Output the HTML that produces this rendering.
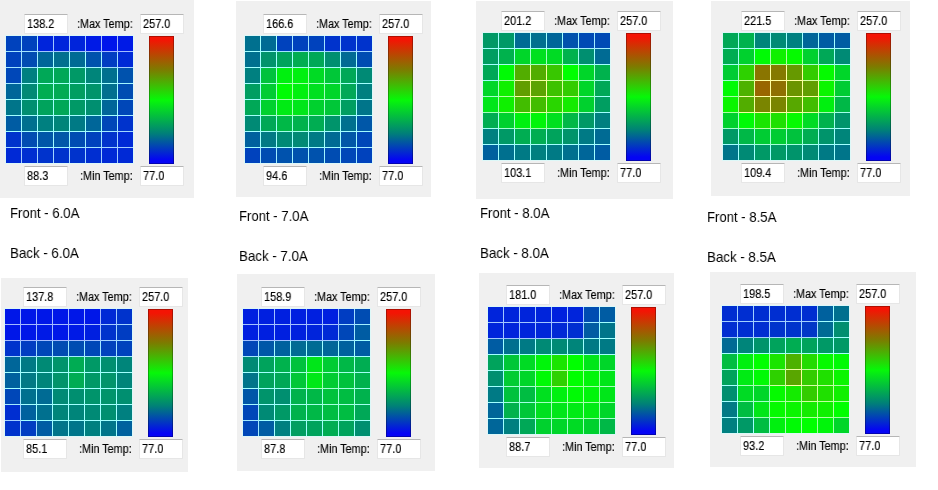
<!DOCTYPE html>
<html><head><meta charset="utf-8"><title>Thermal maps</title>
<style>
html,body{margin:0;padding:0;background:#fff;}
body{width:938px;height:490px;position:relative;overflow:hidden;font-family:"Liberation Sans",sans-serif;}
.gray{position:absolute;background:#f0f0f0;}
.grid{position:absolute;background:#c4f8fa;outline:1px solid rgba(215,250,250,.8);}
.c{position:absolute;box-sizing:border-box;}
.tb{position:absolute;background:#fff;border:1px solid #e6e6e6;border-top-color:#b6b6b6;box-sizing:border-box;border-radius:1px;}
.t{position:absolute;font-size:12.5px;line-height:14px;color:#000;white-space:nowrap;transform-origin:0 0;transform:scaleX(.875);will-change:transform;-webkit-text-stroke:.15px #000;}
.tl{transform:scaleX(.865);}
.cb{position:absolute;background:linear-gradient(to bottom,#f41404 0%,#f41404 3%,#7c7c00 26.5%,#06f808 50%,#008078 76%,#0404f4 97%,#0404f4 100%);box-shadow:inset 0 0 0 1px rgba(0,0,0,.28);}
.lab{position:absolute;font-size:14.5px;line-height:16px;color:#000;white-space:nowrap;transform-origin:0 0;transform:scaleX(.915);will-change:transform;}
</style></head><body>

<div class="gray" style="left:0px;top:0px;width:194px;height:197.5px"></div>
<div class="grid" style="left:6px;top:36px;width:127.0px;height:127.0px">
<div class="c" style="left:0px;top:0px;width:16px;height:16px;background:rgb(0,66,189);border-right:1px solid rgb(162,228,255);border-bottom:1px solid rgb(162,228,255);"></div>
<div class="c" style="left:16px;top:0px;width:16px;height:16px;background:rgb(0,66,189);border-right:1px solid rgb(162,228,255);border-bottom:1px solid rgb(162,228,255);"></div>
<div class="c" style="left:32px;top:0px;width:16px;height:16px;background:rgb(0,36,219);border-right:1px solid rgb(162,198,255);border-bottom:1px solid rgb(162,198,255);"></div>
<div class="c" style="left:48px;top:0px;width:16px;height:16px;background:rgb(0,36,219);border-right:1px solid rgb(162,198,255);border-bottom:1px solid rgb(162,198,255);"></div>
<div class="c" style="left:64px;top:0px;width:16px;height:16px;background:rgb(0,36,219);border-right:1px solid rgb(162,198,255);border-bottom:1px solid rgb(162,198,255);"></div>
<div class="c" style="left:80px;top:0px;width:16px;height:16px;background:rgb(0,26,230);border-right:1px solid rgb(162,188,255);border-bottom:1px solid rgb(162,188,255);"></div>
<div class="c" style="left:96px;top:0px;width:16px;height:16px;background:rgb(0,20,235);border-right:1px solid rgb(162,182,255);border-bottom:1px solid rgb(162,182,255);"></div>
<div class="c" style="left:112px;top:0px;width:15px;height:16px;background:rgb(0,26,230);border-bottom:1px solid rgb(162,188,255);"></div>
<div class="c" style="left:0px;top:16px;width:16px;height:16px;background:rgb(0,66,189);border-right:1px solid rgb(162,228,255);border-bottom:1px solid rgb(162,228,255);"></div>
<div class="c" style="left:16px;top:16px;width:16px;height:16px;background:rgb(0,76,178);border-right:1px solid rgb(162,238,255);border-bottom:1px solid rgb(162,238,255);"></div>
<div class="c" style="left:32px;top:16px;width:16px;height:16px;background:rgb(0,102,153);border-right:1px solid rgb(162,255,255);border-bottom:1px solid rgb(162,255,255);"></div>
<div class="c" style="left:48px;top:16px;width:16px;height:16px;background:rgb(0,112,143);border-right:1px solid rgb(162,255,255);border-bottom:1px solid rgb(162,255,255);"></div>
<div class="c" style="left:64px;top:16px;width:16px;height:16px;background:rgb(0,107,148);border-right:1px solid rgb(162,255,255);border-bottom:1px solid rgb(162,255,255);"></div>
<div class="c" style="left:80px;top:16px;width:16px;height:16px;background:rgb(0,82,173);border-right:1px solid rgb(162,244,255);border-bottom:1px solid rgb(162,244,255);"></div>
<div class="c" style="left:96px;top:16px;width:16px;height:16px;background:rgb(0,61,194);border-right:1px solid rgb(162,223,255);border-bottom:1px solid rgb(162,223,255);"></div>
<div class="c" style="left:112px;top:16px;width:15px;height:16px;background:rgb(0,41,214);border-bottom:1px solid rgb(162,203,255);"></div>
<div class="c" style="left:0px;top:32px;width:16px;height:16px;background:rgb(0,71,184);border-right:1px solid rgb(162,233,255);border-bottom:1px solid rgb(162,233,255);"></div>
<div class="c" style="left:16px;top:32px;width:16px;height:16px;background:rgb(0,128,128);border-right:1px solid rgb(162,255,255);border-bottom:1px solid rgb(162,255,255);"></div>
<div class="c" style="left:32px;top:32px;width:16px;height:16px;background:rgb(0,168,87);border-right:1px solid rgb(162,255,249);border-bottom:1px solid rgb(162,255,249);"></div>
<div class="c" style="left:48px;top:32px;width:16px;height:16px;background:rgb(0,168,87);border-right:1px solid rgb(162,255,249);border-bottom:1px solid rgb(162,255,249);"></div>
<div class="c" style="left:64px;top:32px;width:16px;height:16px;background:rgb(0,153,102);border-right:1px solid rgb(162,255,255);border-bottom:1px solid rgb(162,255,255);"></div>
<div class="c" style="left:80px;top:32px;width:16px;height:16px;background:rgb(0,133,122);border-right:1px solid rgb(162,255,255);border-bottom:1px solid rgb(162,255,255);"></div>
<div class="c" style="left:96px;top:32px;width:16px;height:16px;background:rgb(0,112,143);border-right:1px solid rgb(162,255,255);border-bottom:1px solid rgb(162,255,255);"></div>
<div class="c" style="left:112px;top:32px;width:15px;height:16px;background:rgb(0,82,173);border-bottom:1px solid rgb(162,244,255);"></div>
<div class="c" style="left:0px;top:48px;width:16px;height:16px;background:rgb(0,102,153);border-right:1px solid rgb(162,255,255);border-bottom:1px solid rgb(162,255,255);"></div>
<div class="c" style="left:16px;top:48px;width:16px;height:16px;background:rgb(0,138,117);border-right:1px solid rgb(162,255,255);border-bottom:1px solid rgb(162,255,255);"></div>
<div class="c" style="left:32px;top:48px;width:16px;height:16px;background:rgb(0,173,82);border-right:1px solid rgb(162,255,244);border-bottom:1px solid rgb(162,255,244);"></div>
<div class="c" style="left:48px;top:48px;width:16px;height:16px;background:rgb(0,171,84);border-right:1px solid rgb(162,255,246);border-bottom:1px solid rgb(162,255,246);"></div>
<div class="c" style="left:64px;top:48px;width:16px;height:16px;background:rgb(0,158,97);border-right:1px solid rgb(162,255,255);border-bottom:1px solid rgb(162,255,255);"></div>
<div class="c" style="left:80px;top:48px;width:16px;height:16px;background:rgb(0,148,107);border-right:1px solid rgb(162,255,255);border-bottom:1px solid rgb(162,255,255);"></div>
<div class="c" style="left:96px;top:48px;width:16px;height:16px;background:rgb(0,112,143);border-right:1px solid rgb(162,255,255);border-bottom:1px solid rgb(162,255,255);"></div>
<div class="c" style="left:112px;top:48px;width:15px;height:16px;background:rgb(0,76,178);border-bottom:1px solid rgb(162,238,255);"></div>
<div class="c" style="left:0px;top:64px;width:16px;height:16px;background:rgb(0,117,138);border-right:1px solid rgb(162,255,255);border-bottom:1px solid rgb(162,255,255);"></div>
<div class="c" style="left:16px;top:64px;width:16px;height:16px;background:rgb(0,143,112);border-right:1px solid rgb(162,255,255);border-bottom:1px solid rgb(162,255,255);"></div>
<div class="c" style="left:32px;top:64px;width:16px;height:16px;background:rgb(0,163,92);border-right:1px solid rgb(162,255,254);border-bottom:1px solid rgb(162,255,254);"></div>
<div class="c" style="left:48px;top:64px;width:16px;height:16px;background:rgb(0,168,87);border-right:1px solid rgb(162,255,249);border-bottom:1px solid rgb(162,255,249);"></div>
<div class="c" style="left:64px;top:64px;width:16px;height:16px;background:rgb(0,153,102);border-right:1px solid rgb(162,255,255);border-bottom:1px solid rgb(162,255,255);"></div>
<div class="c" style="left:80px;top:64px;width:16px;height:16px;background:rgb(0,143,112);border-right:1px solid rgb(162,255,255);border-bottom:1px solid rgb(162,255,255);"></div>
<div class="c" style="left:96px;top:64px;width:16px;height:16px;background:rgb(0,102,153);border-right:1px solid rgb(162,255,255);border-bottom:1px solid rgb(162,255,255);"></div>
<div class="c" style="left:112px;top:64px;width:15px;height:16px;background:rgb(0,71,184);border-bottom:1px solid rgb(162,233,255);"></div>
<div class="c" style="left:0px;top:80px;width:16px;height:16px;background:rgb(0,92,163);border-right:1px solid rgb(162,254,255);border-bottom:1px solid rgb(162,254,255);"></div>
<div class="c" style="left:16px;top:80px;width:16px;height:16px;background:rgb(0,112,143);border-right:1px solid rgb(162,255,255);border-bottom:1px solid rgb(162,255,255);"></div>
<div class="c" style="left:32px;top:80px;width:16px;height:16px;background:rgb(0,128,128);border-right:1px solid rgb(162,255,255);border-bottom:1px solid rgb(162,255,255);"></div>
<div class="c" style="left:48px;top:80px;width:16px;height:16px;background:rgb(0,133,122);border-right:1px solid rgb(162,255,255);border-bottom:1px solid rgb(162,255,255);"></div>
<div class="c" style="left:64px;top:80px;width:16px;height:16px;background:rgb(0,122,133);border-right:1px solid rgb(162,255,255);border-bottom:1px solid rgb(162,255,255);"></div>
<div class="c" style="left:80px;top:80px;width:16px;height:16px;background:rgb(0,102,153);border-right:1px solid rgb(162,255,255);border-bottom:1px solid rgb(162,255,255);"></div>
<div class="c" style="left:96px;top:80px;width:16px;height:16px;background:rgb(0,71,184);border-right:1px solid rgb(162,233,255);border-bottom:1px solid rgb(162,233,255);"></div>
<div class="c" style="left:112px;top:80px;width:15px;height:16px;background:rgb(0,51,204);border-bottom:1px solid rgb(162,213,255);"></div>
<div class="c" style="left:0px;top:96px;width:16px;height:16px;background:rgb(0,51,204);border-right:1px solid rgb(162,213,255);border-bottom:1px solid rgb(162,213,255);"></div>
<div class="c" style="left:16px;top:96px;width:16px;height:16px;background:rgb(0,76,178);border-right:1px solid rgb(162,238,255);border-bottom:1px solid rgb(162,238,255);"></div>
<div class="c" style="left:32px;top:96px;width:16px;height:16px;background:rgb(0,87,168);border-right:1px solid rgb(162,249,255);border-bottom:1px solid rgb(162,249,255);"></div>
<div class="c" style="left:48px;top:96px;width:16px;height:16px;background:rgb(0,87,168);border-right:1px solid rgb(162,249,255);border-bottom:1px solid rgb(162,249,255);"></div>
<div class="c" style="left:64px;top:96px;width:16px;height:16px;background:rgb(0,76,178);border-right:1px solid rgb(162,238,255);border-bottom:1px solid rgb(162,238,255);"></div>
<div class="c" style="left:80px;top:96px;width:16px;height:16px;background:rgb(0,66,189);border-right:1px solid rgb(162,228,255);border-bottom:1px solid rgb(162,228,255);"></div>
<div class="c" style="left:96px;top:96px;width:16px;height:16px;background:rgb(0,51,204);border-right:1px solid rgb(162,213,255);border-bottom:1px solid rgb(162,213,255);"></div>
<div class="c" style="left:112px;top:96px;width:15px;height:16px;background:rgb(0,41,214);border-bottom:1px solid rgb(162,203,255);"></div>
<div class="c" style="left:0px;top:112px;width:16px;height:15px;background:rgb(0,41,214);border-right:1px solid rgb(162,203,255);"></div>
<div class="c" style="left:16px;top:112px;width:16px;height:15px;background:rgb(0,46,209);border-right:1px solid rgb(162,208,255);"></div>
<div class="c" style="left:32px;top:112px;width:16px;height:15px;background:rgb(0,51,204);border-right:1px solid rgb(162,213,255);"></div>
<div class="c" style="left:48px;top:112px;width:16px;height:15px;background:rgb(0,51,204);border-right:1px solid rgb(162,213,255);"></div>
<div class="c" style="left:64px;top:112px;width:16px;height:15px;background:rgb(0,51,204);border-right:1px solid rgb(162,213,255);"></div>
<div class="c" style="left:80px;top:112px;width:16px;height:15px;background:rgb(0,46,209);border-right:1px solid rgb(162,208,255);"></div>
<div class="c" style="left:96px;top:112px;width:16px;height:15px;background:rgb(0,41,214);border-right:1px solid rgb(162,203,255);"></div>
<div class="c" style="left:112px;top:112px;width:15px;height:15px;background:rgb(0,41,214);"></div>
</div>
<div class="tb" style="left:24.4px;top:14.100000000000001px;width:44px;height:19.5px"></div>
<div class="t" style="left:27.1px;top:16.8px">138.2</div>
<div class="t tl" style="left:77px;top:16.8px">:Max Temp:</div>
<div class="tb" style="left:139.8px;top:14.100000000000001px;width:44.2px;height:19.5px"></div>
<div class="t" style="left:143px;top:16.8px">257.0</div>
<div class="cb" style="left:149px;top:35.7px;width:24.8px;height:128px"></div>
<div class="tb" style="left:24.4px;top:166.3px;width:44px;height:19.3px"></div>
<div class="t" style="left:26.9px;top:168.6px">88.3</div>
<div class="t tl" style="left:79.8px;top:168.6px">:Min Temp:</div>
<div class="tb" style="left:139.8px;top:166.3px;width:44.2px;height:19.3px"></div>
<div class="t" style="left:142.8px;top:168.6px">77.0</div>
<div class="gray" style="left:236px;top:1px;width:195px;height:196.3px"></div>
<div class="grid" style="left:245px;top:36px;width:127.0px;height:127.0px">
<div class="c" style="left:0px;top:0px;width:16px;height:16px;background:rgb(0,112,143);border-right:1px solid rgb(162,255,255);border-bottom:1px solid rgb(162,255,255);"></div>
<div class="c" style="left:16px;top:0px;width:16px;height:16px;background:rgb(0,107,148);border-right:1px solid rgb(162,255,255);border-bottom:1px solid rgb(162,255,255);"></div>
<div class="c" style="left:32px;top:0px;width:16px;height:16px;background:rgb(0,66,189);border-right:1px solid rgb(162,228,255);border-bottom:1px solid rgb(162,228,255);"></div>
<div class="c" style="left:48px;top:0px;width:16px;height:16px;background:rgb(0,66,189);border-right:1px solid rgb(162,228,255);border-bottom:1px solid rgb(162,228,255);"></div>
<div class="c" style="left:64px;top:0px;width:16px;height:16px;background:rgb(0,66,189);border-right:1px solid rgb(162,228,255);border-bottom:1px solid rgb(162,228,255);"></div>
<div class="c" style="left:80px;top:0px;width:16px;height:16px;background:rgb(0,51,204);border-right:1px solid rgb(162,213,255);border-bottom:1px solid rgb(162,213,255);"></div>
<div class="c" style="left:96px;top:0px;width:16px;height:16px;background:rgb(0,51,204);border-right:1px solid rgb(162,213,255);border-bottom:1px solid rgb(162,213,255);"></div>
<div class="c" style="left:112px;top:0px;width:15px;height:16px;background:rgb(0,51,204);border-bottom:1px solid rgb(162,213,255);"></div>
<div class="c" style="left:0px;top:16px;width:16px;height:16px;background:rgb(0,112,143);border-right:1px solid rgb(162,255,255);border-bottom:1px solid rgb(162,255,255);"></div>
<div class="c" style="left:16px;top:16px;width:16px;height:16px;background:rgb(0,148,107);border-right:1px solid rgb(162,255,255);border-bottom:1px solid rgb(162,255,255);"></div>
<div class="c" style="left:32px;top:16px;width:16px;height:16px;background:rgb(0,163,92);border-right:1px solid rgb(162,255,254);border-bottom:1px solid rgb(162,255,254);"></div>
<div class="c" style="left:48px;top:16px;width:16px;height:16px;background:rgb(0,173,82);border-right:1px solid rgb(162,255,244);border-bottom:1px solid rgb(162,255,244);"></div>
<div class="c" style="left:64px;top:16px;width:16px;height:16px;background:rgb(0,168,87);border-right:1px solid rgb(162,255,249);border-bottom:1px solid rgb(162,255,249);"></div>
<div class="c" style="left:80px;top:16px;width:16px;height:16px;background:rgb(0,143,112);border-right:1px solid rgb(162,255,255);border-bottom:1px solid rgb(162,255,255);"></div>
<div class="c" style="left:96px;top:16px;width:16px;height:16px;background:rgb(0,107,148);border-right:1px solid rgb(162,255,255);border-bottom:1px solid rgb(162,255,255);"></div>
<div class="c" style="left:112px;top:16px;width:15px;height:16px;background:rgb(0,76,178);border-bottom:1px solid rgb(162,238,255);"></div>
<div class="c" style="left:0px;top:32px;width:16px;height:16px;background:rgb(0,128,128);border-right:1px solid rgb(162,255,255);border-bottom:1px solid rgb(162,255,255);"></div>
<div class="c" style="left:16px;top:32px;width:16px;height:16px;background:rgb(0,194,61);border-right:1px solid rgb(162,255,223);border-bottom:1px solid rgb(162,255,223);"></div>
<div class="c" style="left:32px;top:32px;width:16px;height:16px;background:rgb(0,240,15);border-right:1px solid rgb(162,255,177);border-bottom:1px solid rgb(162,255,177);"></div>
<div class="c" style="left:48px;top:32px;width:16px;height:16px;background:rgb(0,240,15);border-right:1px solid rgb(162,255,177);border-bottom:1px solid rgb(162,255,177);"></div>
<div class="c" style="left:64px;top:32px;width:16px;height:16px;background:rgb(0,219,36);border-right:1px solid rgb(162,255,198);border-bottom:1px solid rgb(162,255,198);"></div>
<div class="c" style="left:80px;top:32px;width:16px;height:16px;background:rgb(0,199,56);border-right:1px solid rgb(162,255,218);border-bottom:1px solid rgb(162,255,218);"></div>
<div class="c" style="left:96px;top:32px;width:16px;height:16px;background:rgb(0,168,87);border-right:1px solid rgb(162,255,249);border-bottom:1px solid rgb(162,255,249);"></div>
<div class="c" style="left:112px;top:32px;width:15px;height:16px;background:rgb(0,138,117);border-bottom:1px solid rgb(162,255,255);"></div>
<div class="c" style="left:0px;top:48px;width:16px;height:16px;background:rgb(0,158,97);border-right:1px solid rgb(162,255,255);border-bottom:1px solid rgb(162,255,255);"></div>
<div class="c" style="left:16px;top:48px;width:16px;height:16px;background:rgb(0,204,51);border-right:1px solid rgb(162,255,213);border-bottom:1px solid rgb(162,255,213);"></div>
<div class="c" style="left:32px;top:48px;width:16px;height:16px;background:rgb(0,252,3);border-right:1px solid rgb(162,255,165);border-bottom:1px solid rgb(162,255,165);"></div>
<div class="c" style="left:48px;top:48px;width:16px;height:16px;background:rgb(0,240,15);border-right:1px solid rgb(162,255,177);border-bottom:1px solid rgb(162,255,177);"></div>
<div class="c" style="left:64px;top:48px;width:16px;height:16px;background:rgb(0,224,31);border-right:1px solid rgb(162,255,193);border-bottom:1px solid rgb(162,255,193);"></div>
<div class="c" style="left:80px;top:48px;width:16px;height:16px;background:rgb(0,214,41);border-right:1px solid rgb(162,255,203);border-bottom:1px solid rgb(162,255,203);"></div>
<div class="c" style="left:96px;top:48px;width:16px;height:16px;background:rgb(0,168,87);border-right:1px solid rgb(162,255,249);border-bottom:1px solid rgb(162,255,249);"></div>
<div class="c" style="left:112px;top:48px;width:15px;height:16px;background:rgb(0,128,128);border-bottom:1px solid rgb(162,255,255);"></div>
<div class="c" style="left:0px;top:64px;width:16px;height:16px;background:rgb(0,168,87);border-right:1px solid rgb(162,255,249);border-bottom:1px solid rgb(162,255,249);"></div>
<div class="c" style="left:16px;top:64px;width:16px;height:16px;background:rgb(0,209,46);border-right:1px solid rgb(162,255,208);border-bottom:1px solid rgb(162,255,208);"></div>
<div class="c" style="left:32px;top:64px;width:16px;height:16px;background:rgb(0,235,20);border-right:1px solid rgb(162,255,182);border-bottom:1px solid rgb(162,255,182);"></div>
<div class="c" style="left:48px;top:64px;width:16px;height:16px;background:rgb(0,230,25);border-right:1px solid rgb(162,255,187);border-bottom:1px solid rgb(162,255,187);"></div>
<div class="c" style="left:64px;top:64px;width:16px;height:16px;background:rgb(0,209,46);border-right:1px solid rgb(162,255,208);border-bottom:1px solid rgb(162,255,208);"></div>
<div class="c" style="left:80px;top:64px;width:16px;height:16px;background:rgb(0,199,56);border-right:1px solid rgb(162,255,218);border-bottom:1px solid rgb(162,255,218);"></div>
<div class="c" style="left:96px;top:64px;width:16px;height:16px;background:rgb(0,158,97);border-right:1px solid rgb(162,255,255);border-bottom:1px solid rgb(162,255,255);"></div>
<div class="c" style="left:112px;top:64px;width:15px;height:16px;background:rgb(0,117,138);border-bottom:1px solid rgb(162,255,255);"></div>
<div class="c" style="left:0px;top:80px;width:16px;height:16px;background:rgb(0,138,117);border-right:1px solid rgb(162,255,255);border-bottom:1px solid rgb(162,255,255);"></div>
<div class="c" style="left:16px;top:80px;width:16px;height:16px;background:rgb(0,168,87);border-right:1px solid rgb(162,255,249);border-bottom:1px solid rgb(162,255,249);"></div>
<div class="c" style="left:32px;top:80px;width:16px;height:16px;background:rgb(0,184,71);border-right:1px solid rgb(162,255,233);border-bottom:1px solid rgb(162,255,233);"></div>
<div class="c" style="left:48px;top:80px;width:16px;height:16px;background:rgb(0,178,77);border-right:1px solid rgb(162,255,239);border-bottom:1px solid rgb(162,255,239);"></div>
<div class="c" style="left:64px;top:80px;width:16px;height:16px;background:rgb(0,173,82);border-right:1px solid rgb(162,255,244);border-bottom:1px solid rgb(162,255,244);"></div>
<div class="c" style="left:80px;top:80px;width:16px;height:16px;background:rgb(0,148,107);border-right:1px solid rgb(162,255,255);border-bottom:1px solid rgb(162,255,255);"></div>
<div class="c" style="left:96px;top:80px;width:16px;height:16px;background:rgb(0,112,143);border-right:1px solid rgb(162,255,255);border-bottom:1px solid rgb(162,255,255);"></div>
<div class="c" style="left:112px;top:80px;width:15px;height:16px;background:rgb(0,87,168);border-bottom:1px solid rgb(162,249,255);"></div>
<div class="c" style="left:0px;top:96px;width:16px;height:16px;background:rgb(0,97,158);border-right:1px solid rgb(162,255,255);border-bottom:1px solid rgb(162,255,255);"></div>
<div class="c" style="left:16px;top:96px;width:16px;height:16px;background:rgb(0,122,133);border-right:1px solid rgb(162,255,255);border-bottom:1px solid rgb(162,255,255);"></div>
<div class="c" style="left:32px;top:96px;width:16px;height:16px;background:rgb(0,138,117);border-right:1px solid rgb(162,255,255);border-bottom:1px solid rgb(162,255,255);"></div>
<div class="c" style="left:48px;top:96px;width:16px;height:16px;background:rgb(0,138,117);border-right:1px solid rgb(162,255,255);border-bottom:1px solid rgb(162,255,255);"></div>
<div class="c" style="left:64px;top:96px;width:16px;height:16px;background:rgb(0,122,133);border-right:1px solid rgb(162,255,255);border-bottom:1px solid rgb(162,255,255);"></div>
<div class="c" style="left:80px;top:96px;width:16px;height:16px;background:rgb(0,107,148);border-right:1px solid rgb(162,255,255);border-bottom:1px solid rgb(162,255,255);"></div>
<div class="c" style="left:96px;top:96px;width:16px;height:16px;background:rgb(0,87,168);border-right:1px solid rgb(162,249,255);border-bottom:1px solid rgb(162,249,255);"></div>
<div class="c" style="left:112px;top:96px;width:15px;height:16px;background:rgb(0,71,184);border-bottom:1px solid rgb(162,233,255);"></div>
<div class="c" style="left:0px;top:112px;width:16px;height:15px;background:rgb(0,66,189);border-right:1px solid rgb(162,228,255);"></div>
<div class="c" style="left:16px;top:112px;width:16px;height:15px;background:rgb(0,76,178);border-right:1px solid rgb(162,238,255);"></div>
<div class="c" style="left:32px;top:112px;width:16px;height:15px;background:rgb(0,82,173);border-right:1px solid rgb(162,244,255);"></div>
<div class="c" style="left:48px;top:112px;width:16px;height:15px;background:rgb(0,82,173);border-right:1px solid rgb(162,244,255);"></div>
<div class="c" style="left:64px;top:112px;width:16px;height:15px;background:rgb(0,82,173);border-right:1px solid rgb(162,244,255);"></div>
<div class="c" style="left:80px;top:112px;width:16px;height:15px;background:rgb(0,76,178);border-right:1px solid rgb(162,238,255);"></div>
<div class="c" style="left:96px;top:112px;width:16px;height:15px;background:rgb(0,71,184);border-right:1px solid rgb(162,233,255);"></div>
<div class="c" style="left:112px;top:112px;width:15px;height:15px;background:rgb(0,66,189);"></div>
</div>
<div class="tb" style="left:263.4px;top:14.100000000000001px;width:44px;height:19.5px"></div>
<div class="t" style="left:266.1px;top:16.8px">166.6</div>
<div class="t tl" style="left:316px;top:16.8px">:Max Temp:</div>
<div class="tb" style="left:378.8px;top:14.100000000000001px;width:44.2px;height:19.5px"></div>
<div class="t" style="left:382px;top:16.8px">257.0</div>
<div class="cb" style="left:388px;top:35.7px;width:24.8px;height:128px"></div>
<div class="tb" style="left:263.4px;top:166.3px;width:44px;height:19.3px"></div>
<div class="t" style="left:265.9px;top:168.6px">94.6</div>
<div class="t tl" style="left:318.8px;top:168.6px">:Min Temp:</div>
<div class="tb" style="left:378.8px;top:166.3px;width:44.2px;height:19.3px"></div>
<div class="t" style="left:381.8px;top:168.6px">77.0</div>
<div class="gray" style="left:476px;top:1px;width:197px;height:197.8px"></div>
<div class="grid" style="left:483px;top:33px;width:127.0px;height:127.0px">
<div class="c" style="left:0px;top:0px;width:16px;height:16px;background:rgb(0,153,102);border-right:1px solid rgb(162,255,255);border-bottom:1px solid rgb(162,255,255);"></div>
<div class="c" style="left:16px;top:0px;width:16px;height:16px;background:rgb(0,153,102);border-right:1px solid rgb(162,255,255);border-bottom:1px solid rgb(162,255,255);"></div>
<div class="c" style="left:32px;top:0px;width:16px;height:16px;background:rgb(0,107,148);border-right:1px solid rgb(162,255,255);border-bottom:1px solid rgb(162,255,255);"></div>
<div class="c" style="left:48px;top:0px;width:16px;height:16px;background:rgb(0,112,143);border-right:1px solid rgb(162,255,255);border-bottom:1px solid rgb(162,255,255);"></div>
<div class="c" style="left:64px;top:0px;width:16px;height:16px;background:rgb(0,102,153);border-right:1px solid rgb(162,255,255);border-bottom:1px solid rgb(162,255,255);"></div>
<div class="c" style="left:80px;top:0px;width:16px;height:16px;background:rgb(0,82,173);border-right:1px solid rgb(162,244,255);border-bottom:1px solid rgb(162,244,255);"></div>
<div class="c" style="left:96px;top:0px;width:16px;height:16px;background:rgb(0,74,181);border-right:1px solid rgb(162,236,255);border-bottom:1px solid rgb(162,236,255);"></div>
<div class="c" style="left:112px;top:0px;width:15px;height:16px;background:rgb(0,74,181);border-bottom:1px solid rgb(162,236,255);"></div>
<div class="c" style="left:0px;top:16px;width:16px;height:16px;background:rgb(0,158,97);border-right:1px solid rgb(162,255,255);border-bottom:1px solid rgb(162,255,255);"></div>
<div class="c" style="left:16px;top:16px;width:16px;height:16px;background:rgb(0,178,77);border-right:1px solid rgb(162,255,239);border-bottom:1px solid rgb(162,255,239);"></div>
<div class="c" style="left:32px;top:16px;width:16px;height:16px;background:rgb(0,214,41);border-right:1px solid rgb(162,255,203);border-bottom:1px solid rgb(162,255,203);"></div>
<div class="c" style="left:48px;top:16px;width:16px;height:16px;background:rgb(0,224,31);border-right:1px solid rgb(162,255,193);border-bottom:1px solid rgb(162,255,193);"></div>
<div class="c" style="left:64px;top:16px;width:16px;height:16px;background:rgb(0,219,36);border-right:1px solid rgb(162,255,198);border-bottom:1px solid rgb(162,255,198);"></div>
<div class="c" style="left:80px;top:16px;width:16px;height:16px;background:rgb(0,178,77);border-right:1px solid rgb(162,255,239);border-bottom:1px solid rgb(162,255,239);"></div>
<div class="c" style="left:96px;top:16px;width:16px;height:16px;background:rgb(0,143,112);border-right:1px solid rgb(162,255,255);border-bottom:1px solid rgb(162,255,255);"></div>
<div class="c" style="left:112px;top:16px;width:15px;height:16px;background:rgb(0,107,148);border-bottom:1px solid rgb(162,255,255);"></div>
<div class="c" style="left:0px;top:32px;width:16px;height:16px;background:rgb(0,168,87);border-right:1px solid rgb(162,255,249);border-bottom:1px solid rgb(162,255,249);"></div>
<div class="c" style="left:16px;top:32px;width:16px;height:16px;background:rgb(0,250,5);border-right:1px solid rgb(162,255,167);border-bottom:1px solid rgb(162,255,167);"></div>
<div class="c" style="left:32px;top:32px;width:16px;height:16px;background:rgb(82,173,0);border-right:1px solid rgb(244,255,162);border-bottom:1px solid rgb(244,255,162);"></div>
<div class="c" style="left:48px;top:32px;width:16px;height:16px;background:rgb(82,173,0);border-right:1px solid rgb(244,255,162);border-bottom:1px solid rgb(244,255,162);"></div>
<div class="c" style="left:64px;top:32px;width:16px;height:16px;background:rgb(56,199,0);border-right:1px solid rgb(218,255,162);border-bottom:1px solid rgb(218,255,162);"></div>
<div class="c" style="left:80px;top:32px;width:16px;height:16px;background:rgb(0,255,0);border-right:1px solid rgb(162,255,162);border-bottom:1px solid rgb(162,255,162);"></div>
<div class="c" style="left:96px;top:32px;width:16px;height:16px;background:rgb(0,214,41);border-right:1px solid rgb(162,255,203);border-bottom:1px solid rgb(162,255,203);"></div>
<div class="c" style="left:112px;top:32px;width:15px;height:16px;background:rgb(0,178,77);border-bottom:1px solid rgb(162,255,239);"></div>
<div class="c" style="left:0px;top:48px;width:16px;height:16px;background:rgb(0,214,41);border-right:1px solid rgb(162,255,203);border-bottom:1px solid rgb(162,255,203);"></div>
<div class="c" style="left:16px;top:48px;width:16px;height:16px;background:rgb(15,240,0);border-right:1px solid rgb(177,255,162);border-bottom:1px solid rgb(177,255,162);"></div>
<div class="c" style="left:32px;top:48px;width:16px;height:16px;background:rgb(97,158,0);border-right:1px solid rgb(255,255,162);border-bottom:1px solid rgb(255,255,162);"></div>
<div class="c" style="left:48px;top:48px;width:16px;height:16px;background:rgb(92,163,0);border-right:1px solid rgb(254,255,162);border-bottom:1px solid rgb(254,255,162);"></div>
<div class="c" style="left:64px;top:48px;width:16px;height:16px;background:rgb(61,194,0);border-right:1px solid rgb(223,255,162);border-bottom:1px solid rgb(223,255,162);"></div>
<div class="c" style="left:80px;top:48px;width:16px;height:16px;background:rgb(51,204,0);border-right:1px solid rgb(213,255,162);border-bottom:1px solid rgb(213,255,162);"></div>
<div class="c" style="left:96px;top:48px;width:16px;height:16px;background:rgb(0,214,41);border-right:1px solid rgb(162,255,203);border-bottom:1px solid rgb(162,255,203);"></div>
<div class="c" style="left:112px;top:48px;width:15px;height:16px;background:rgb(0,168,87);border-bottom:1px solid rgb(162,255,249);"></div>
<div class="c" style="left:0px;top:64px;width:16px;height:16px;background:rgb(0,230,25);border-right:1px solid rgb(162,255,187);border-bottom:1px solid rgb(162,255,187);"></div>
<div class="c" style="left:16px;top:64px;width:16px;height:16px;background:rgb(15,240,0);border-right:1px solid rgb(177,255,162);border-bottom:1px solid rgb(177,255,162);"></div>
<div class="c" style="left:32px;top:64px;width:16px;height:16px;background:rgb(66,189,0);border-right:1px solid rgb(228,255,162);border-bottom:1px solid rgb(228,255,162);"></div>
<div class="c" style="left:48px;top:64px;width:16px;height:16px;background:rgb(66,189,0);border-right:1px solid rgb(228,255,162);border-bottom:1px solid rgb(228,255,162);"></div>
<div class="c" style="left:64px;top:64px;width:16px;height:16px;background:rgb(41,214,0);border-right:1px solid rgb(203,255,162);border-bottom:1px solid rgb(203,255,162);"></div>
<div class="c" style="left:80px;top:64px;width:16px;height:16px;background:rgb(20,235,0);border-right:1px solid rgb(182,255,162);border-bottom:1px solid rgb(182,255,162);"></div>
<div class="c" style="left:96px;top:64px;width:16px;height:16px;background:rgb(0,209,46);border-right:1px solid rgb(162,255,208);border-bottom:1px solid rgb(162,255,208);"></div>
<div class="c" style="left:112px;top:64px;width:15px;height:16px;background:rgb(0,158,97);border-bottom:1px solid rgb(162,255,255);"></div>
<div class="c" style="left:0px;top:80px;width:16px;height:16px;background:rgb(0,173,82);border-right:1px solid rgb(162,255,244);border-bottom:1px solid rgb(162,255,244);"></div>
<div class="c" style="left:16px;top:80px;width:16px;height:16px;background:rgb(0,209,46);border-right:1px solid rgb(162,255,208);border-bottom:1px solid rgb(162,255,208);"></div>
<div class="c" style="left:32px;top:80px;width:16px;height:16px;background:rgb(0,240,15);border-right:1px solid rgb(162,255,177);border-bottom:1px solid rgb(162,255,177);"></div>
<div class="c" style="left:48px;top:80px;width:16px;height:16px;background:rgb(0,245,10);border-right:1px solid rgb(162,255,172);border-bottom:1px solid rgb(162,255,172);"></div>
<div class="c" style="left:64px;top:80px;width:16px;height:16px;background:rgb(0,224,31);border-right:1px solid rgb(162,255,193);border-bottom:1px solid rgb(162,255,193);"></div>
<div class="c" style="left:80px;top:80px;width:16px;height:16px;background:rgb(0,184,71);border-right:1px solid rgb(162,255,233);border-bottom:1px solid rgb(162,255,233);"></div>
<div class="c" style="left:96px;top:80px;width:16px;height:16px;background:rgb(0,153,102);border-right:1px solid rgb(162,255,255);border-bottom:1px solid rgb(162,255,255);"></div>
<div class="c" style="left:112px;top:80px;width:15px;height:16px;background:rgb(0,128,128);border-bottom:1px solid rgb(162,255,255);"></div>
<div class="c" style="left:0px;top:96px;width:16px;height:16px;background:rgb(0,128,128);border-right:1px solid rgb(162,255,255);border-bottom:1px solid rgb(162,255,255);"></div>
<div class="c" style="left:16px;top:96px;width:16px;height:16px;background:rgb(0,153,102);border-right:1px solid rgb(162,255,255);border-bottom:1px solid rgb(162,255,255);"></div>
<div class="c" style="left:32px;top:96px;width:16px;height:16px;background:rgb(0,173,82);border-right:1px solid rgb(162,255,244);border-bottom:1px solid rgb(162,255,244);"></div>
<div class="c" style="left:48px;top:96px;width:16px;height:16px;background:rgb(0,173,82);border-right:1px solid rgb(162,255,244);border-bottom:1px solid rgb(162,255,244);"></div>
<div class="c" style="left:64px;top:96px;width:16px;height:16px;background:rgb(0,163,92);border-right:1px solid rgb(162,255,254);border-bottom:1px solid rgb(162,255,254);"></div>
<div class="c" style="left:80px;top:96px;width:16px;height:16px;background:rgb(0,148,107);border-right:1px solid rgb(162,255,255);border-bottom:1px solid rgb(162,255,255);"></div>
<div class="c" style="left:96px;top:96px;width:16px;height:16px;background:rgb(0,122,133);border-right:1px solid rgb(162,255,255);border-bottom:1px solid rgb(162,255,255);"></div>
<div class="c" style="left:112px;top:96px;width:15px;height:16px;background:rgb(0,107,148);border-bottom:1px solid rgb(162,255,255);"></div>
<div class="c" style="left:0px;top:112px;width:16px;height:15px;background:rgb(0,97,158);border-right:1px solid rgb(162,255,255);"></div>
<div class="c" style="left:16px;top:112px;width:16px;height:15px;background:rgb(0,112,143);border-right:1px solid rgb(162,255,255);"></div>
<div class="c" style="left:32px;top:112px;width:16px;height:15px;background:rgb(0,122,133);border-right:1px solid rgb(162,255,255);"></div>
<div class="c" style="left:48px;top:112px;width:16px;height:15px;background:rgb(0,128,128);border-right:1px solid rgb(162,255,255);"></div>
<div class="c" style="left:64px;top:112px;width:16px;height:15px;background:rgb(0,122,133);border-right:1px solid rgb(162,255,255);"></div>
<div class="c" style="left:80px;top:112px;width:16px;height:15px;background:rgb(0,112,143);border-right:1px solid rgb(162,255,255);"></div>
<div class="c" style="left:96px;top:112px;width:16px;height:15px;background:rgb(0,102,153);border-right:1px solid rgb(162,255,255);"></div>
<div class="c" style="left:112px;top:112px;width:15px;height:15px;background:rgb(0,92,163);"></div>
</div>
<div class="tb" style="left:501.4px;top:11.100000000000001px;width:44px;height:19.5px"></div>
<div class="t" style="left:504.1px;top:13.8px">201.2</div>
<div class="t tl" style="left:554px;top:13.8px">:Max Temp:</div>
<div class="tb" style="left:616.8px;top:11.100000000000001px;width:44.2px;height:19.5px"></div>
<div class="t" style="left:620px;top:13.8px">257.0</div>
<div class="cb" style="left:626px;top:32.7px;width:24.8px;height:128px"></div>
<div class="tb" style="left:501.4px;top:163.3px;width:44px;height:19.3px"></div>
<div class="t" style="left:503.9px;top:165.6px">103.1</div>
<div class="t tl" style="left:556.8px;top:165.6px">:Min Temp:</div>
<div class="tb" style="left:616.8px;top:163.3px;width:44.2px;height:19.3px"></div>
<div class="t" style="left:619.8px;top:165.6px">77.0</div>
<div class="gray" style="left:711px;top:1px;width:199px;height:195.4px"></div>
<div class="grid" style="left:723px;top:33px;width:127.0px;height:127.0px">
<div class="c" style="left:0px;top:0px;width:16px;height:16px;background:rgb(0,168,87);border-right:1px solid rgb(162,255,249);border-bottom:1px solid rgb(162,255,249);"></div>
<div class="c" style="left:16px;top:0px;width:16px;height:16px;background:rgb(0,178,77);border-right:1px solid rgb(162,255,239);border-bottom:1px solid rgb(162,255,239);"></div>
<div class="c" style="left:32px;top:0px;width:16px;height:16px;background:rgb(0,133,122);border-right:1px solid rgb(162,255,255);border-bottom:1px solid rgb(162,255,255);"></div>
<div class="c" style="left:48px;top:0px;width:16px;height:16px;background:rgb(0,138,117);border-right:1px solid rgb(162,255,255);border-bottom:1px solid rgb(162,255,255);"></div>
<div class="c" style="left:64px;top:0px;width:16px;height:16px;background:rgb(0,128,128);border-right:1px solid rgb(162,255,255);border-bottom:1px solid rgb(162,255,255);"></div>
<div class="c" style="left:80px;top:0px;width:16px;height:16px;background:rgb(0,102,153);border-right:1px solid rgb(162,255,255);border-bottom:1px solid rgb(162,255,255);"></div>
<div class="c" style="left:96px;top:0px;width:16px;height:16px;background:rgb(0,92,163);border-right:1px solid rgb(162,254,255);border-bottom:1px solid rgb(162,254,255);"></div>
<div class="c" style="left:112px;top:0px;width:15px;height:16px;background:rgb(0,92,163);border-bottom:1px solid rgb(162,254,255);"></div>
<div class="c" style="left:0px;top:16px;width:16px;height:16px;background:rgb(0,173,82);border-right:1px solid rgb(162,255,244);border-bottom:1px solid rgb(162,255,244);"></div>
<div class="c" style="left:16px;top:16px;width:16px;height:16px;background:rgb(0,209,46);border-right:1px solid rgb(162,255,208);border-bottom:1px solid rgb(162,255,208);"></div>
<div class="c" style="left:32px;top:16px;width:16px;height:16px;background:rgb(0,250,5);border-right:1px solid rgb(162,255,167);border-bottom:1px solid rgb(162,255,167);"></div>
<div class="c" style="left:48px;top:16px;width:16px;height:16px;background:rgb(15,240,0);border-right:1px solid rgb(177,255,162);border-bottom:1px solid rgb(177,255,162);"></div>
<div class="c" style="left:64px;top:16px;width:16px;height:16px;background:rgb(5,250,0);border-right:1px solid rgb(167,255,162);border-bottom:1px solid rgb(167,255,162);"></div>
<div class="c" style="left:80px;top:16px;width:16px;height:16px;background:rgb(0,209,46);border-right:1px solid rgb(162,255,208);border-bottom:1px solid rgb(162,255,208);"></div>
<div class="c" style="left:96px;top:16px;width:16px;height:16px;background:rgb(0,168,87);border-right:1px solid rgb(162,255,249);border-bottom:1px solid rgb(162,255,249);"></div>
<div class="c" style="left:112px;top:16px;width:15px;height:16px;background:rgb(0,138,117);border-bottom:1px solid rgb(162,255,255);"></div>
<div class="c" style="left:0px;top:32px;width:16px;height:16px;background:rgb(0,204,51);border-right:1px solid rgb(162,255,213);border-bottom:1px solid rgb(162,255,213);"></div>
<div class="c" style="left:16px;top:32px;width:16px;height:16px;background:rgb(46,209,0);border-right:1px solid rgb(208,255,162);border-bottom:1px solid rgb(208,255,162);"></div>
<div class="c" style="left:32px;top:32px;width:16px;height:16px;background:rgb(138,117,0);border-right:1px solid rgb(255,255,162);border-bottom:1px solid rgb(255,255,162);"></div>
<div class="c" style="left:48px;top:32px;width:16px;height:16px;background:rgb(133,122,0);border-right:1px solid rgb(255,255,162);border-bottom:1px solid rgb(255,255,162);"></div>
<div class="c" style="left:64px;top:32px;width:16px;height:16px;background:rgb(102,153,0);border-right:1px solid rgb(255,255,162);border-bottom:1px solid rgb(255,255,162);"></div>
<div class="c" style="left:80px;top:32px;width:16px;height:16px;background:rgb(51,204,0);border-right:1px solid rgb(213,255,162);border-bottom:1px solid rgb(213,255,162);"></div>
<div class="c" style="left:96px;top:32px;width:16px;height:16px;background:rgb(5,250,0);border-right:1px solid rgb(167,255,162);border-bottom:1px solid rgb(167,255,162);"></div>
<div class="c" style="left:112px;top:32px;width:15px;height:16px;background:rgb(0,214,41);border-bottom:1px solid rgb(162,255,203);"></div>
<div class="c" style="left:0px;top:48px;width:16px;height:16px;background:rgb(0,250,5);border-right:1px solid rgb(162,255,167);border-bottom:1px solid rgb(162,255,167);"></div>
<div class="c" style="left:16px;top:48px;width:16px;height:16px;background:rgb(77,178,0);border-right:1px solid rgb(239,255,162);border-bottom:1px solid rgb(239,255,162);"></div>
<div class="c" style="left:32px;top:48px;width:16px;height:16px;background:rgb(153,102,0);border-right:1px solid rgb(255,255,162);border-bottom:1px solid rgb(255,255,162);"></div>
<div class="c" style="left:48px;top:48px;width:16px;height:16px;background:rgb(143,112,0);border-right:1px solid rgb(255,255,162);border-bottom:1px solid rgb(255,255,162);"></div>
<div class="c" style="left:64px;top:48px;width:16px;height:16px;background:rgb(107,148,0);border-right:1px solid rgb(255,255,162);border-bottom:1px solid rgb(255,255,162);"></div>
<div class="c" style="left:80px;top:48px;width:16px;height:16px;background:rgb(97,158,0);border-right:1px solid rgb(255,255,162);border-bottom:1px solid rgb(255,255,162);"></div>
<div class="c" style="left:96px;top:48px;width:16px;height:16px;background:rgb(10,245,0);border-right:1px solid rgb(172,255,162);border-bottom:1px solid rgb(172,255,162);"></div>
<div class="c" style="left:112px;top:48px;width:15px;height:16px;background:rgb(0,204,51);border-bottom:1px solid rgb(162,255,213);"></div>
<div class="c" style="left:0px;top:64px;width:16px;height:16px;background:rgb(10,245,0);border-right:1px solid rgb(172,255,162);border-bottom:1px solid rgb(172,255,162);"></div>
<div class="c" style="left:16px;top:64px;width:16px;height:16px;background:rgb(82,173,0);border-right:1px solid rgb(244,255,162);border-bottom:1px solid rgb(244,255,162);"></div>
<div class="c" style="left:32px;top:64px;width:16px;height:16px;background:rgb(122,133,0);border-right:1px solid rgb(255,255,162);border-bottom:1px solid rgb(255,255,162);"></div>
<div class="c" style="left:48px;top:64px;width:16px;height:16px;background:rgb(122,133,0);border-right:1px solid rgb(255,255,162);border-bottom:1px solid rgb(255,255,162);"></div>
<div class="c" style="left:64px;top:64px;width:16px;height:16px;background:rgb(87,168,0);border-right:1px solid rgb(249,255,162);border-bottom:1px solid rgb(249,255,162);"></div>
<div class="c" style="left:80px;top:64px;width:16px;height:16px;background:rgb(66,189,0);border-right:1px solid rgb(228,255,162);border-bottom:1px solid rgb(228,255,162);"></div>
<div class="c" style="left:96px;top:64px;width:16px;height:16px;background:rgb(0,240,15);border-right:1px solid rgb(162,255,177);border-bottom:1px solid rgb(162,255,177);"></div>
<div class="c" style="left:112px;top:64px;width:15px;height:16px;background:rgb(0,184,71);border-bottom:1px solid rgb(162,255,233);"></div>
<div class="c" style="left:0px;top:80px;width:16px;height:16px;background:rgb(0,209,46);border-right:1px solid rgb(162,255,208);border-bottom:1px solid rgb(162,255,208);"></div>
<div class="c" style="left:16px;top:80px;width:16px;height:16px;background:rgb(0,250,5);border-right:1px solid rgb(162,255,167);border-bottom:1px solid rgb(162,255,167);"></div>
<div class="c" style="left:32px;top:80px;width:16px;height:16px;background:rgb(26,229,0);border-right:1px solid rgb(188,255,162);border-bottom:1px solid rgb(188,255,162);"></div>
<div class="c" style="left:48px;top:80px;width:16px;height:16px;background:rgb(31,224,0);border-right:1px solid rgb(193,255,162);border-bottom:1px solid rgb(193,255,162);"></div>
<div class="c" style="left:64px;top:80px;width:16px;height:16px;background:rgb(5,250,0);border-right:1px solid rgb(167,255,162);border-bottom:1px solid rgb(167,255,162);"></div>
<div class="c" style="left:80px;top:80px;width:16px;height:16px;background:rgb(0,219,36);border-right:1px solid rgb(162,255,198);border-bottom:1px solid rgb(162,255,198);"></div>
<div class="c" style="left:96px;top:80px;width:16px;height:16px;background:rgb(0,178,77);border-right:1px solid rgb(162,255,239);border-bottom:1px solid rgb(162,255,239);"></div>
<div class="c" style="left:112px;top:80px;width:15px;height:16px;background:rgb(0,148,107);border-bottom:1px solid rgb(162,255,255);"></div>
<div class="c" style="left:0px;top:96px;width:16px;height:16px;background:rgb(0,153,102);border-right:1px solid rgb(162,255,255);border-bottom:1px solid rgb(162,255,255);"></div>
<div class="c" style="left:16px;top:96px;width:16px;height:16px;background:rgb(0,184,71);border-right:1px solid rgb(162,255,233);border-bottom:1px solid rgb(162,255,233);"></div>
<div class="c" style="left:32px;top:96px;width:16px;height:16px;background:rgb(0,204,51);border-right:1px solid rgb(162,255,213);border-bottom:1px solid rgb(162,255,213);"></div>
<div class="c" style="left:48px;top:96px;width:16px;height:16px;background:rgb(0,204,51);border-right:1px solid rgb(162,255,213);border-bottom:1px solid rgb(162,255,213);"></div>
<div class="c" style="left:64px;top:96px;width:16px;height:16px;background:rgb(0,194,61);border-right:1px solid rgb(162,255,223);border-bottom:1px solid rgb(162,255,223);"></div>
<div class="c" style="left:80px;top:96px;width:16px;height:16px;background:rgb(0,173,82);border-right:1px solid rgb(162,255,244);border-bottom:1px solid rgb(162,255,244);"></div>
<div class="c" style="left:96px;top:96px;width:16px;height:16px;background:rgb(0,148,107);border-right:1px solid rgb(162,255,255);border-bottom:1px solid rgb(162,255,255);"></div>
<div class="c" style="left:112px;top:96px;width:15px;height:16px;background:rgb(0,133,122);border-bottom:1px solid rgb(162,255,255);"></div>
<div class="c" style="left:0px;top:112px;width:16px;height:15px;background:rgb(0,117,138);border-right:1px solid rgb(162,255,255);"></div>
<div class="c" style="left:16px;top:112px;width:16px;height:15px;background:rgb(0,138,117);border-right:1px solid rgb(162,255,255);"></div>
<div class="c" style="left:32px;top:112px;width:16px;height:15px;background:rgb(0,153,102);border-right:1px solid rgb(162,255,255);"></div>
<div class="c" style="left:48px;top:112px;width:16px;height:15px;background:rgb(0,153,102);border-right:1px solid rgb(162,255,255);"></div>
<div class="c" style="left:64px;top:112px;width:16px;height:15px;background:rgb(0,148,107);border-right:1px solid rgb(162,255,255);"></div>
<div class="c" style="left:80px;top:112px;width:16px;height:15px;background:rgb(0,138,117);border-right:1px solid rgb(162,255,255);"></div>
<div class="c" style="left:96px;top:112px;width:16px;height:15px;background:rgb(0,122,133);border-right:1px solid rgb(162,255,255);"></div>
<div class="c" style="left:112px;top:112px;width:15px;height:15px;background:rgb(0,117,138);"></div>
</div>
<div class="tb" style="left:741.4px;top:11.100000000000001px;width:44px;height:19.5px"></div>
<div class="t" style="left:744.1px;top:13.8px">221.5</div>
<div class="t tl" style="left:794px;top:13.8px">:Max Temp:</div>
<div class="tb" style="left:856.8px;top:11.100000000000001px;width:44.2px;height:19.5px"></div>
<div class="t" style="left:860px;top:13.8px">257.0</div>
<div class="cb" style="left:866px;top:32.7px;width:24.8px;height:128px"></div>
<div class="tb" style="left:741.4px;top:163.3px;width:44px;height:19.3px"></div>
<div class="t" style="left:743.9px;top:165.6px">109.4</div>
<div class="t tl" style="left:796.8px;top:165.6px">:Min Temp:</div>
<div class="tb" style="left:856.8px;top:163.3px;width:44.2px;height:19.3px"></div>
<div class="t" style="left:859.8px;top:165.6px">77.0</div>
<div class="gray" style="left:1px;top:278.2px;width:187px;height:194.2px"></div>
<div class="grid" style="left:5px;top:309px;width:127.0px;height:127.0px">
<div class="c" style="left:0px;top:0px;width:16px;height:16px;background:rgb(0,23,232);border-right:1px solid rgb(162,185,255);border-bottom:1px solid rgb(162,185,255);"></div>
<div class="c" style="left:16px;top:0px;width:16px;height:16px;background:rgb(0,23,232);border-right:1px solid rgb(162,185,255);border-bottom:1px solid rgb(162,185,255);"></div>
<div class="c" style="left:32px;top:0px;width:16px;height:16px;background:rgb(0,23,232);border-right:1px solid rgb(162,185,255);border-bottom:1px solid rgb(162,185,255);"></div>
<div class="c" style="left:48px;top:0px;width:16px;height:16px;background:rgb(0,23,232);border-right:1px solid rgb(162,185,255);border-bottom:1px solid rgb(162,185,255);"></div>
<div class="c" style="left:64px;top:0px;width:16px;height:16px;background:rgb(0,23,232);border-right:1px solid rgb(162,185,255);border-bottom:1px solid rgb(162,185,255);"></div>
<div class="c" style="left:80px;top:0px;width:16px;height:16px;background:rgb(0,23,232);border-right:1px solid rgb(162,185,255);border-bottom:1px solid rgb(162,185,255);"></div>
<div class="c" style="left:96px;top:0px;width:16px;height:16px;background:rgb(0,41,214);border-right:1px solid rgb(162,203,255);border-bottom:1px solid rgb(162,203,255);"></div>
<div class="c" style="left:112px;top:0px;width:15px;height:16px;background:rgb(0,51,204);border-bottom:1px solid rgb(162,213,255);"></div>
<div class="c" style="left:0px;top:16px;width:16px;height:16px;background:rgb(0,23,232);border-right:1px solid rgb(162,185,255);border-bottom:1px solid rgb(162,185,255);"></div>
<div class="c" style="left:16px;top:16px;width:16px;height:16px;background:rgb(0,23,232);border-right:1px solid rgb(162,185,255);border-bottom:1px solid rgb(162,185,255);"></div>
<div class="c" style="left:32px;top:16px;width:16px;height:16px;background:rgb(0,26,230);border-right:1px solid rgb(162,188,255);border-bottom:1px solid rgb(162,188,255);"></div>
<div class="c" style="left:48px;top:16px;width:16px;height:16px;background:rgb(0,23,232);border-right:1px solid rgb(162,185,255);border-bottom:1px solid rgb(162,185,255);"></div>
<div class="c" style="left:64px;top:16px;width:16px;height:16px;background:rgb(0,26,230);border-right:1px solid rgb(162,188,255);border-bottom:1px solid rgb(162,188,255);"></div>
<div class="c" style="left:80px;top:16px;width:16px;height:16px;background:rgb(0,31,224);border-right:1px solid rgb(162,193,255);border-bottom:1px solid rgb(162,193,255);"></div>
<div class="c" style="left:96px;top:16px;width:16px;height:16px;background:rgb(0,51,204);border-right:1px solid rgb(162,213,255);border-bottom:1px solid rgb(162,213,255);"></div>
<div class="c" style="left:112px;top:16px;width:15px;height:16px;background:rgb(0,61,194);border-bottom:1px solid rgb(162,223,255);"></div>
<div class="c" style="left:0px;top:32px;width:16px;height:16px;background:rgb(0,51,204);border-right:1px solid rgb(162,213,255);border-bottom:1px solid rgb(162,213,255);"></div>
<div class="c" style="left:16px;top:32px;width:16px;height:16px;background:rgb(0,61,194);border-right:1px solid rgb(162,223,255);border-bottom:1px solid rgb(162,223,255);"></div>
<div class="c" style="left:32px;top:32px;width:16px;height:16px;background:rgb(0,71,184);border-right:1px solid rgb(162,233,255);border-bottom:1px solid rgb(162,233,255);"></div>
<div class="c" style="left:48px;top:32px;width:16px;height:16px;background:rgb(0,76,178);border-right:1px solid rgb(162,238,255);border-bottom:1px solid rgb(162,238,255);"></div>
<div class="c" style="left:64px;top:32px;width:16px;height:16px;background:rgb(0,76,178);border-right:1px solid rgb(162,238,255);border-bottom:1px solid rgb(162,238,255);"></div>
<div class="c" style="left:80px;top:32px;width:16px;height:16px;background:rgb(0,71,184);border-right:1px solid rgb(162,233,255);border-bottom:1px solid rgb(162,233,255);"></div>
<div class="c" style="left:96px;top:32px;width:16px;height:16px;background:rgb(0,66,189);border-right:1px solid rgb(162,228,255);border-bottom:1px solid rgb(162,228,255);"></div>
<div class="c" style="left:112px;top:32px;width:15px;height:16px;background:rgb(0,66,189);border-bottom:1px solid rgb(162,228,255);"></div>
<div class="c" style="left:0px;top:48px;width:16px;height:16px;background:rgb(0,102,153);border-right:1px solid rgb(162,255,255);border-bottom:1px solid rgb(162,255,255);"></div>
<div class="c" style="left:16px;top:48px;width:16px;height:16px;background:rgb(0,122,133);border-right:1px solid rgb(162,255,255);border-bottom:1px solid rgb(162,255,255);"></div>
<div class="c" style="left:32px;top:48px;width:16px;height:16px;background:rgb(0,138,117);border-right:1px solid rgb(162,255,255);border-bottom:1px solid rgb(162,255,255);"></div>
<div class="c" style="left:48px;top:48px;width:16px;height:16px;background:rgb(0,148,107);border-right:1px solid rgb(162,255,255);border-bottom:1px solid rgb(162,255,255);"></div>
<div class="c" style="left:64px;top:48px;width:16px;height:16px;background:rgb(0,172,83);border-right:1px solid rgb(162,255,245);border-bottom:1px solid rgb(162,255,245);"></div>
<div class="c" style="left:80px;top:48px;width:16px;height:16px;background:rgb(0,153,102);border-right:1px solid rgb(162,255,255);border-bottom:1px solid rgb(162,255,255);"></div>
<div class="c" style="left:96px;top:48px;width:16px;height:16px;background:rgb(0,143,112);border-right:1px solid rgb(162,255,255);border-bottom:1px solid rgb(162,255,255);"></div>
<div class="c" style="left:112px;top:48px;width:15px;height:16px;background:rgb(0,133,122);border-bottom:1px solid rgb(162,255,255);"></div>
<div class="c" style="left:0px;top:64px;width:16px;height:16px;background:rgb(0,97,158);border-right:1px solid rgb(162,255,255);border-bottom:1px solid rgb(162,255,255);"></div>
<div class="c" style="left:16px;top:64px;width:16px;height:16px;background:rgb(0,122,133);border-right:1px solid rgb(162,255,255);border-bottom:1px solid rgb(162,255,255);"></div>
<div class="c" style="left:32px;top:64px;width:16px;height:16px;background:rgb(0,133,122);border-right:1px solid rgb(162,255,255);border-bottom:1px solid rgb(162,255,255);"></div>
<div class="c" style="left:48px;top:64px;width:16px;height:16px;background:rgb(0,148,107);border-right:1px solid rgb(162,255,255);border-bottom:1px solid rgb(162,255,255);"></div>
<div class="c" style="left:64px;top:64px;width:16px;height:16px;background:rgb(0,172,83);border-right:1px solid rgb(162,255,245);border-bottom:1px solid rgb(162,255,245);"></div>
<div class="c" style="left:80px;top:64px;width:16px;height:16px;background:rgb(0,153,102);border-right:1px solid rgb(162,255,255);border-bottom:1px solid rgb(162,255,255);"></div>
<div class="c" style="left:96px;top:64px;width:16px;height:16px;background:rgb(0,148,107);border-right:1px solid rgb(162,255,255);border-bottom:1px solid rgb(162,255,255);"></div>
<div class="c" style="left:112px;top:64px;width:15px;height:16px;background:rgb(0,133,122);border-bottom:1px solid rgb(162,255,255);"></div>
<div class="c" style="left:0px;top:80px;width:16px;height:16px;background:rgb(0,71,184);border-right:1px solid rgb(162,233,255);border-bottom:1px solid rgb(162,233,255);"></div>
<div class="c" style="left:16px;top:80px;width:16px;height:16px;background:rgb(0,112,143);border-right:1px solid rgb(162,255,255);border-bottom:1px solid rgb(162,255,255);"></div>
<div class="c" style="left:32px;top:80px;width:16px;height:16px;background:rgb(0,107,148);border-right:1px solid rgb(162,255,255);border-bottom:1px solid rgb(162,255,255);"></div>
<div class="c" style="left:48px;top:80px;width:16px;height:16px;background:rgb(0,138,117);border-right:1px solid rgb(162,255,255);border-bottom:1px solid rgb(162,255,255);"></div>
<div class="c" style="left:64px;top:80px;width:16px;height:16px;background:rgb(0,143,112);border-right:1px solid rgb(162,255,255);border-bottom:1px solid rgb(162,255,255);"></div>
<div class="c" style="left:80px;top:80px;width:16px;height:16px;background:rgb(0,148,107);border-right:1px solid rgb(162,255,255);border-bottom:1px solid rgb(162,255,255);"></div>
<div class="c" style="left:96px;top:80px;width:16px;height:16px;background:rgb(0,148,107);border-right:1px solid rgb(162,255,255);border-bottom:1px solid rgb(162,255,255);"></div>
<div class="c" style="left:112px;top:80px;width:15px;height:16px;background:rgb(0,143,112);border-bottom:1px solid rgb(162,255,255);"></div>
<div class="c" style="left:0px;top:96px;width:16px;height:16px;background:rgb(0,46,209);border-right:1px solid rgb(162,208,255);border-bottom:1px solid rgb(162,208,255);"></div>
<div class="c" style="left:16px;top:96px;width:16px;height:16px;background:rgb(0,97,158);border-right:1px solid rgb(162,255,255);border-bottom:1px solid rgb(162,255,255);"></div>
<div class="c" style="left:32px;top:96px;width:16px;height:16px;background:rgb(0,112,143);border-right:1px solid rgb(162,255,255);border-bottom:1px solid rgb(162,255,255);"></div>
<div class="c" style="left:48px;top:96px;width:16px;height:16px;background:rgb(0,133,122);border-right:1px solid rgb(162,255,255);border-bottom:1px solid rgb(162,255,255);"></div>
<div class="c" style="left:64px;top:96px;width:16px;height:16px;background:rgb(0,133,122);border-right:1px solid rgb(162,255,255);border-bottom:1px solid rgb(162,255,255);"></div>
<div class="c" style="left:80px;top:96px;width:16px;height:16px;background:rgb(0,138,117);border-right:1px solid rgb(162,255,255);border-bottom:1px solid rgb(162,255,255);"></div>
<div class="c" style="left:96px;top:96px;width:16px;height:16px;background:rgb(0,143,112);border-right:1px solid rgb(162,255,255);border-bottom:1px solid rgb(162,255,255);"></div>
<div class="c" style="left:112px;top:96px;width:15px;height:16px;background:rgb(0,128,128);border-bottom:1px solid rgb(162,255,255);"></div>
<div class="c" style="left:0px;top:112px;width:16px;height:15px;background:rgb(0,51,204);border-right:1px solid rgb(162,213,255);"></div>
<div class="c" style="left:16px;top:112px;width:16px;height:15px;background:rgb(0,61,194);border-right:1px solid rgb(162,223,255);"></div>
<div class="c" style="left:32px;top:112px;width:16px;height:15px;background:rgb(0,92,163);border-right:1px solid rgb(162,254,255);"></div>
<div class="c" style="left:48px;top:112px;width:16px;height:15px;background:rgb(0,117,138);border-right:1px solid rgb(162,255,255);"></div>
<div class="c" style="left:64px;top:112px;width:16px;height:15px;background:rgb(0,117,138);border-right:1px solid rgb(162,255,255);"></div>
<div class="c" style="left:80px;top:112px;width:16px;height:15px;background:rgb(0,128,128);border-right:1px solid rgb(162,255,255);"></div>
<div class="c" style="left:96px;top:112px;width:16px;height:15px;background:rgb(0,117,138);border-right:1px solid rgb(162,255,255);"></div>
<div class="c" style="left:112px;top:112px;width:15px;height:15px;background:rgb(0,97,158);"></div>
</div>
<div class="tb" style="left:23.4px;top:287.1px;width:44px;height:19.5px"></div>
<div class="t" style="left:26.1px;top:289.8px">137.8</div>
<div class="t tl" style="left:76px;top:289.8px">:Max Temp:</div>
<div class="tb" style="left:138.8px;top:287.1px;width:44.2px;height:19.5px"></div>
<div class="t" style="left:142px;top:289.8px">257.0</div>
<div class="cb" style="left:148px;top:308.7px;width:24.8px;height:128px"></div>
<div class="tb" style="left:23.4px;top:439.3px;width:44px;height:19.3px"></div>
<div class="t" style="left:25.9px;top:441.6px">85.1</div>
<div class="t tl" style="left:78.8px;top:441.6px">:Min Temp:</div>
<div class="tb" style="left:138.8px;top:439.3px;width:44.2px;height:19.3px"></div>
<div class="t" style="left:141.8px;top:441.6px">77.0</div>
<div class="gray" style="left:237px;top:274px;width:198px;height:196.5px"></div>
<div class="grid" style="left:243px;top:309px;width:127.0px;height:127.0px">
<div class="c" style="left:0px;top:0px;width:16px;height:16px;background:rgb(0,31,224);border-right:1px solid rgb(162,193,255);border-bottom:1px solid rgb(162,193,255);"></div>
<div class="c" style="left:16px;top:0px;width:16px;height:16px;background:rgb(0,31,224);border-right:1px solid rgb(162,193,255);border-bottom:1px solid rgb(162,193,255);"></div>
<div class="c" style="left:32px;top:0px;width:16px;height:16px;background:rgb(0,31,224);border-right:1px solid rgb(162,193,255);border-bottom:1px solid rgb(162,193,255);"></div>
<div class="c" style="left:48px;top:0px;width:16px;height:16px;background:rgb(0,31,224);border-right:1px solid rgb(162,193,255);border-bottom:1px solid rgb(162,193,255);"></div>
<div class="c" style="left:64px;top:0px;width:16px;height:16px;background:rgb(0,31,224);border-right:1px solid rgb(162,193,255);border-bottom:1px solid rgb(162,193,255);"></div>
<div class="c" style="left:80px;top:0px;width:16px;height:16px;background:rgb(0,31,224);border-right:1px solid rgb(162,193,255);border-bottom:1px solid rgb(162,193,255);"></div>
<div class="c" style="left:96px;top:0px;width:16px;height:16px;background:rgb(0,61,194);border-right:1px solid rgb(162,223,255);border-bottom:1px solid rgb(162,223,255);"></div>
<div class="c" style="left:112px;top:0px;width:15px;height:16px;background:rgb(0,76,178);border-bottom:1px solid rgb(162,238,255);"></div>
<div class="c" style="left:0px;top:16px;width:16px;height:16px;background:rgb(0,31,224);border-right:1px solid rgb(162,193,255);border-bottom:1px solid rgb(162,193,255);"></div>
<div class="c" style="left:16px;top:16px;width:16px;height:16px;background:rgb(0,31,224);border-right:1px solid rgb(162,193,255);border-bottom:1px solid rgb(162,193,255);"></div>
<div class="c" style="left:32px;top:16px;width:16px;height:16px;background:rgb(0,31,224);border-right:1px solid rgb(162,193,255);border-bottom:1px solid rgb(162,193,255);"></div>
<div class="c" style="left:48px;top:16px;width:16px;height:16px;background:rgb(0,33,222);border-right:1px solid rgb(162,195,255);border-bottom:1px solid rgb(162,195,255);"></div>
<div class="c" style="left:64px;top:16px;width:16px;height:16px;background:rgb(0,36,219);border-right:1px solid rgb(162,198,255);border-bottom:1px solid rgb(162,198,255);"></div>
<div class="c" style="left:80px;top:16px;width:16px;height:16px;background:rgb(0,41,214);border-right:1px solid rgb(162,203,255);border-bottom:1px solid rgb(162,203,255);"></div>
<div class="c" style="left:96px;top:16px;width:16px;height:16px;background:rgb(0,71,184);border-right:1px solid rgb(162,233,255);border-bottom:1px solid rgb(162,233,255);"></div>
<div class="c" style="left:112px;top:16px;width:15px;height:16px;background:rgb(0,92,163);border-bottom:1px solid rgb(162,254,255);"></div>
<div class="c" style="left:0px;top:32px;width:16px;height:16px;background:rgb(0,71,184);border-right:1px solid rgb(162,233,255);border-bottom:1px solid rgb(162,233,255);"></div>
<div class="c" style="left:16px;top:32px;width:16px;height:16px;background:rgb(0,87,168);border-right:1px solid rgb(162,249,255);border-bottom:1px solid rgb(162,249,255);"></div>
<div class="c" style="left:32px;top:32px;width:16px;height:16px;background:rgb(0,97,158);border-right:1px solid rgb(162,255,255);border-bottom:1px solid rgb(162,255,255);"></div>
<div class="c" style="left:48px;top:32px;width:16px;height:16px;background:rgb(0,107,148);border-right:1px solid rgb(162,255,255);border-bottom:1px solid rgb(162,255,255);"></div>
<div class="c" style="left:64px;top:32px;width:16px;height:16px;background:rgb(0,107,148);border-right:1px solid rgb(162,255,255);border-bottom:1px solid rgb(162,255,255);"></div>
<div class="c" style="left:80px;top:32px;width:16px;height:16px;background:rgb(0,102,153);border-right:1px solid rgb(162,255,255);border-bottom:1px solid rgb(162,255,255);"></div>
<div class="c" style="left:96px;top:32px;width:16px;height:16px;background:rgb(0,97,158);border-right:1px solid rgb(162,255,255);border-bottom:1px solid rgb(162,255,255);"></div>
<div class="c" style="left:112px;top:32px;width:15px;height:16px;background:rgb(0,92,163);border-bottom:1px solid rgb(162,254,255);"></div>
<div class="c" style="left:0px;top:48px;width:16px;height:16px;background:rgb(0,138,117);border-right:1px solid rgb(162,255,255);border-bottom:1px solid rgb(162,255,255);"></div>
<div class="c" style="left:16px;top:48px;width:16px;height:16px;background:rgb(0,163,92);border-right:1px solid rgb(162,255,254);border-bottom:1px solid rgb(162,255,254);"></div>
<div class="c" style="left:32px;top:48px;width:16px;height:16px;background:rgb(0,178,77);border-right:1px solid rgb(162,255,239);border-bottom:1px solid rgb(162,255,239);"></div>
<div class="c" style="left:48px;top:48px;width:16px;height:16px;background:rgb(0,194,61);border-right:1px solid rgb(162,255,223);border-bottom:1px solid rgb(162,255,223);"></div>
<div class="c" style="left:64px;top:48px;width:16px;height:16px;background:rgb(0,230,25);border-right:1px solid rgb(162,255,187);border-bottom:1px solid rgb(162,255,187);"></div>
<div class="c" style="left:80px;top:48px;width:16px;height:16px;background:rgb(0,204,51);border-right:1px solid rgb(162,255,213);border-bottom:1px solid rgb(162,255,213);"></div>
<div class="c" style="left:96px;top:48px;width:16px;height:16px;background:rgb(0,184,71);border-right:1px solid rgb(162,255,233);border-bottom:1px solid rgb(162,255,233);"></div>
<div class="c" style="left:112px;top:48px;width:15px;height:16px;background:rgb(0,173,82);border-bottom:1px solid rgb(162,255,244);"></div>
<div class="c" style="left:0px;top:64px;width:16px;height:16px;background:rgb(0,117,138);border-right:1px solid rgb(162,255,255);border-bottom:1px solid rgb(162,255,255);"></div>
<div class="c" style="left:16px;top:64px;width:16px;height:16px;background:rgb(0,163,92);border-right:1px solid rgb(162,255,254);border-bottom:1px solid rgb(162,255,254);"></div>
<div class="c" style="left:32px;top:64px;width:16px;height:16px;background:rgb(0,168,87);border-right:1px solid rgb(162,255,249);border-bottom:1px solid rgb(162,255,249);"></div>
<div class="c" style="left:48px;top:64px;width:16px;height:16px;background:rgb(0,199,56);border-right:1px solid rgb(162,255,218);border-bottom:1px solid rgb(162,255,218);"></div>
<div class="c" style="left:64px;top:64px;width:16px;height:16px;background:rgb(0,232,23);border-right:1px solid rgb(162,255,185);border-bottom:1px solid rgb(162,255,185);"></div>
<div class="c" style="left:80px;top:64px;width:16px;height:16px;background:rgb(0,204,51);border-right:1px solid rgb(162,255,213);border-bottom:1px solid rgb(162,255,213);"></div>
<div class="c" style="left:96px;top:64px;width:16px;height:16px;background:rgb(0,194,61);border-right:1px solid rgb(162,255,223);border-bottom:1px solid rgb(162,255,223);"></div>
<div class="c" style="left:112px;top:64px;width:15px;height:16px;background:rgb(0,178,77);border-bottom:1px solid rgb(162,255,239);"></div>
<div class="c" style="left:0px;top:80px;width:16px;height:16px;background:rgb(0,87,168);border-right:1px solid rgb(162,249,255);border-bottom:1px solid rgb(162,249,255);"></div>
<div class="c" style="left:16px;top:80px;width:16px;height:16px;background:rgb(0,148,107);border-right:1px solid rgb(162,255,255);border-bottom:1px solid rgb(162,255,255);"></div>
<div class="c" style="left:32px;top:80px;width:16px;height:16px;background:rgb(0,143,112);border-right:1px solid rgb(162,255,255);border-bottom:1px solid rgb(162,255,255);"></div>
<div class="c" style="left:48px;top:80px;width:16px;height:16px;background:rgb(0,178,77);border-right:1px solid rgb(162,255,239);border-bottom:1px solid rgb(162,255,239);"></div>
<div class="c" style="left:64px;top:80px;width:16px;height:16px;background:rgb(0,184,71);border-right:1px solid rgb(162,255,233);border-bottom:1px solid rgb(162,255,233);"></div>
<div class="c" style="left:80px;top:80px;width:16px;height:16px;background:rgb(0,194,61);border-right:1px solid rgb(162,255,223);border-bottom:1px solid rgb(162,255,223);"></div>
<div class="c" style="left:96px;top:80px;width:16px;height:16px;background:rgb(0,189,66);border-right:1px solid rgb(162,255,228);border-bottom:1px solid rgb(162,255,228);"></div>
<div class="c" style="left:112px;top:80px;width:15px;height:16px;background:rgb(0,178,77);border-bottom:1px solid rgb(162,255,239);"></div>
<div class="c" style="left:0px;top:96px;width:16px;height:16px;background:rgb(0,71,184);border-right:1px solid rgb(162,233,255);border-bottom:1px solid rgb(162,233,255);"></div>
<div class="c" style="left:16px;top:96px;width:16px;height:16px;background:rgb(0,138,117);border-right:1px solid rgb(162,255,255);border-bottom:1px solid rgb(162,255,255);"></div>
<div class="c" style="left:32px;top:96px;width:16px;height:16px;background:rgb(0,153,102);border-right:1px solid rgb(162,255,255);border-bottom:1px solid rgb(162,255,255);"></div>
<div class="c" style="left:48px;top:96px;width:16px;height:16px;background:rgb(0,178,77);border-right:1px solid rgb(162,255,239);border-bottom:1px solid rgb(162,255,239);"></div>
<div class="c" style="left:64px;top:96px;width:16px;height:16px;background:rgb(0,184,71);border-right:1px solid rgb(162,255,233);border-bottom:1px solid rgb(162,255,233);"></div>
<div class="c" style="left:80px;top:96px;width:16px;height:16px;background:rgb(0,189,66);border-right:1px solid rgb(162,255,228);border-bottom:1px solid rgb(162,255,228);"></div>
<div class="c" style="left:96px;top:96px;width:16px;height:16px;background:rgb(0,189,66);border-right:1px solid rgb(162,255,228);border-bottom:1px solid rgb(162,255,228);"></div>
<div class="c" style="left:112px;top:96px;width:15px;height:16px;background:rgb(0,168,87);border-bottom:1px solid rgb(162,255,249);"></div>
<div class="c" style="left:0px;top:112px;width:16px;height:15px;background:rgb(0,71,184);border-right:1px solid rgb(162,233,255);"></div>
<div class="c" style="left:16px;top:112px;width:16px;height:15px;background:rgb(0,92,163);border-right:1px solid rgb(162,254,255);"></div>
<div class="c" style="left:32px;top:112px;width:16px;height:15px;background:rgb(0,128,128);border-right:1px solid rgb(162,255,255);"></div>
<div class="c" style="left:48px;top:112px;width:16px;height:15px;background:rgb(0,158,97);border-right:1px solid rgb(162,255,255);"></div>
<div class="c" style="left:64px;top:112px;width:16px;height:15px;background:rgb(0,163,92);border-right:1px solid rgb(162,255,254);"></div>
<div class="c" style="left:80px;top:112px;width:16px;height:15px;background:rgb(0,173,82);border-right:1px solid rgb(162,255,244);"></div>
<div class="c" style="left:96px;top:112px;width:16px;height:15px;background:rgb(0,163,92);border-right:1px solid rgb(162,255,254);"></div>
<div class="c" style="left:112px;top:112px;width:15px;height:15px;background:rgb(0,143,112);"></div>
</div>
<div class="tb" style="left:261.4px;top:287.1px;width:44px;height:19.5px"></div>
<div class="t" style="left:264.1px;top:289.8px">158.9</div>
<div class="t tl" style="left:314px;top:289.8px">:Max Temp:</div>
<div class="tb" style="left:376.8px;top:287.1px;width:44.2px;height:19.5px"></div>
<div class="t" style="left:380px;top:289.8px">257.0</div>
<div class="cb" style="left:386px;top:308.7px;width:24.8px;height:128px"></div>
<div class="tb" style="left:261.4px;top:439.3px;width:44px;height:19.3px"></div>
<div class="t" style="left:263.9px;top:441.6px">87.8</div>
<div class="t tl" style="left:316.8px;top:441.6px">:Min Temp:</div>
<div class="tb" style="left:376.8px;top:439.3px;width:44.2px;height:19.3px"></div>
<div class="t" style="left:379.8px;top:441.6px">77.0</div>
<div class="gray" style="left:479px;top:273px;width:195px;height:195.3px"></div>
<div class="grid" style="left:488px;top:307px;width:127.0px;height:127.0px">
<div class="c" style="left:0px;top:0px;width:16px;height:16px;background:rgb(0,36,219);border-right:1px solid rgb(162,198,255);border-bottom:1px solid rgb(162,198,255);"></div>
<div class="c" style="left:16px;top:0px;width:16px;height:16px;background:rgb(0,36,219);border-right:1px solid rgb(162,198,255);border-bottom:1px solid rgb(162,198,255);"></div>
<div class="c" style="left:32px;top:0px;width:16px;height:16px;background:rgb(0,36,219);border-right:1px solid rgb(162,198,255);border-bottom:1px solid rgb(162,198,255);"></div>
<div class="c" style="left:48px;top:0px;width:16px;height:16px;background:rgb(0,36,219);border-right:1px solid rgb(162,198,255);border-bottom:1px solid rgb(162,198,255);"></div>
<div class="c" style="left:64px;top:0px;width:16px;height:16px;background:rgb(0,33,222);border-right:1px solid rgb(162,195,255);border-bottom:1px solid rgb(162,195,255);"></div>
<div class="c" style="left:80px;top:0px;width:16px;height:16px;background:rgb(0,36,219);border-right:1px solid rgb(162,198,255);border-bottom:1px solid rgb(162,198,255);"></div>
<div class="c" style="left:96px;top:0px;width:16px;height:16px;background:rgb(0,76,178);border-right:1px solid rgb(162,238,255);border-bottom:1px solid rgb(162,238,255);"></div>
<div class="c" style="left:112px;top:0px;width:15px;height:16px;background:rgb(0,92,163);border-bottom:1px solid rgb(162,254,255);"></div>
<div class="c" style="left:0px;top:16px;width:16px;height:16px;background:rgb(0,36,219);border-right:1px solid rgb(162,198,255);border-bottom:1px solid rgb(162,198,255);"></div>
<div class="c" style="left:16px;top:16px;width:16px;height:16px;background:rgb(0,36,219);border-right:1px solid rgb(162,198,255);border-bottom:1px solid rgb(162,198,255);"></div>
<div class="c" style="left:32px;top:16px;width:16px;height:16px;background:rgb(0,36,219);border-right:1px solid rgb(162,198,255);border-bottom:1px solid rgb(162,198,255);"></div>
<div class="c" style="left:48px;top:16px;width:16px;height:16px;background:rgb(0,38,217);border-right:1px solid rgb(162,200,255);border-bottom:1px solid rgb(162,200,255);"></div>
<div class="c" style="left:64px;top:16px;width:16px;height:16px;background:rgb(0,41,214);border-right:1px solid rgb(162,203,255);border-bottom:1px solid rgb(162,203,255);"></div>
<div class="c" style="left:80px;top:16px;width:16px;height:16px;background:rgb(0,46,209);border-right:1px solid rgb(162,208,255);border-bottom:1px solid rgb(162,208,255);"></div>
<div class="c" style="left:96px;top:16px;width:16px;height:16px;background:rgb(0,92,163);border-right:1px solid rgb(162,254,255);border-bottom:1px solid rgb(162,254,255);"></div>
<div class="c" style="left:112px;top:16px;width:15px;height:16px;background:rgb(0,117,138);border-bottom:1px solid rgb(162,255,255);"></div>
<div class="c" style="left:0px;top:32px;width:16px;height:16px;background:rgb(0,92,163);border-right:1px solid rgb(162,254,255);border-bottom:1px solid rgb(162,254,255);"></div>
<div class="c" style="left:16px;top:32px;width:16px;height:16px;background:rgb(0,112,143);border-right:1px solid rgb(162,255,255);border-bottom:1px solid rgb(162,255,255);"></div>
<div class="c" style="left:32px;top:32px;width:16px;height:16px;background:rgb(0,122,133);border-right:1px solid rgb(162,255,255);border-bottom:1px solid rgb(162,255,255);"></div>
<div class="c" style="left:48px;top:32px;width:16px;height:16px;background:rgb(0,138,117);border-right:1px solid rgb(162,255,255);border-bottom:1px solid rgb(162,255,255);"></div>
<div class="c" style="left:64px;top:32px;width:16px;height:16px;background:rgb(0,138,117);border-right:1px solid rgb(162,255,255);border-bottom:1px solid rgb(162,255,255);"></div>
<div class="c" style="left:80px;top:32px;width:16px;height:16px;background:rgb(0,133,122);border-right:1px solid rgb(162,255,255);border-bottom:1px solid rgb(162,255,255);"></div>
<div class="c" style="left:96px;top:32px;width:16px;height:16px;background:rgb(0,122,133);border-right:1px solid rgb(162,255,255);border-bottom:1px solid rgb(162,255,255);"></div>
<div class="c" style="left:112px;top:32px;width:15px;height:16px;background:rgb(0,122,133);border-bottom:1px solid rgb(162,255,255);"></div>
<div class="c" style="left:0px;top:48px;width:16px;height:16px;background:rgb(0,163,92);border-right:1px solid rgb(162,255,254);border-bottom:1px solid rgb(162,255,254);"></div>
<div class="c" style="left:16px;top:48px;width:16px;height:16px;background:rgb(0,199,56);border-right:1px solid rgb(162,255,218);border-bottom:1px solid rgb(162,255,218);"></div>
<div class="c" style="left:32px;top:48px;width:16px;height:16px;background:rgb(0,219,36);border-right:1px solid rgb(162,255,198);border-bottom:1px solid rgb(162,255,198);"></div>
<div class="c" style="left:48px;top:48px;width:16px;height:16px;background:rgb(0,245,10);border-right:1px solid rgb(162,255,172);border-bottom:1px solid rgb(162,255,172);"></div>
<div class="c" style="left:64px;top:48px;width:16px;height:16px;background:rgb(26,229,0);border-right:1px solid rgb(188,255,162);border-bottom:1px solid rgb(188,255,162);"></div>
<div class="c" style="left:80px;top:48px;width:16px;height:16px;background:rgb(0,255,0);border-right:1px solid rgb(162,255,162);border-bottom:1px solid rgb(162,255,162);"></div>
<div class="c" style="left:96px;top:48px;width:16px;height:16px;background:rgb(0,230,25);border-right:1px solid rgb(162,255,187);border-bottom:1px solid rgb(162,255,187);"></div>
<div class="c" style="left:112px;top:48px;width:15px;height:16px;background:rgb(0,214,41);border-bottom:1px solid rgb(162,255,203);"></div>
<div class="c" style="left:0px;top:64px;width:16px;height:16px;background:rgb(0,143,112);border-right:1px solid rgb(162,255,255);border-bottom:1px solid rgb(162,255,255);"></div>
<div class="c" style="left:16px;top:64px;width:16px;height:16px;background:rgb(0,204,51);border-right:1px solid rgb(162,255,213);border-bottom:1px solid rgb(162,255,213);"></div>
<div class="c" style="left:32px;top:64px;width:16px;height:16px;background:rgb(0,214,41);border-right:1px solid rgb(162,255,203);border-bottom:1px solid rgb(162,255,203);"></div>
<div class="c" style="left:48px;top:64px;width:16px;height:16px;background:rgb(0,250,5);border-right:1px solid rgb(162,255,167);border-bottom:1px solid rgb(162,255,167);"></div>
<div class="c" style="left:64px;top:64px;width:16px;height:16px;background:rgb(46,209,0);border-right:1px solid rgb(208,255,162);border-bottom:1px solid rgb(208,255,162);"></div>
<div class="c" style="left:80px;top:64px;width:16px;height:16px;background:rgb(0,255,0);border-right:1px solid rgb(162,255,162);border-bottom:1px solid rgb(162,255,162);"></div>
<div class="c" style="left:96px;top:64px;width:16px;height:16px;background:rgb(0,245,10);border-right:1px solid rgb(162,255,172);border-bottom:1px solid rgb(162,255,172);"></div>
<div class="c" style="left:112px;top:64px;width:15px;height:16px;background:rgb(0,230,25);border-bottom:1px solid rgb(162,255,187);"></div>
<div class="c" style="left:0px;top:80px;width:16px;height:16px;background:rgb(0,122,133);border-right:1px solid rgb(162,255,255);border-bottom:1px solid rgb(162,255,255);"></div>
<div class="c" style="left:16px;top:80px;width:16px;height:16px;background:rgb(0,194,61);border-right:1px solid rgb(162,255,223);border-bottom:1px solid rgb(162,255,223);"></div>
<div class="c" style="left:32px;top:80px;width:16px;height:16px;background:rgb(0,189,66);border-right:1px solid rgb(162,255,228);border-bottom:1px solid rgb(162,255,228);"></div>
<div class="c" style="left:48px;top:80px;width:16px;height:16px;background:rgb(0,224,31);border-right:1px solid rgb(162,255,193);border-bottom:1px solid rgb(162,255,193);"></div>
<div class="c" style="left:64px;top:80px;width:16px;height:16px;background:rgb(0,240,15);border-right:1px solid rgb(162,255,177);border-bottom:1px solid rgb(162,255,177);"></div>
<div class="c" style="left:80px;top:80px;width:16px;height:16px;background:rgb(0,250,5);border-right:1px solid rgb(162,255,167);border-bottom:1px solid rgb(162,255,167);"></div>
<div class="c" style="left:96px;top:80px;width:16px;height:16px;background:rgb(0,245,10);border-right:1px solid rgb(162,255,172);border-bottom:1px solid rgb(162,255,172);"></div>
<div class="c" style="left:112px;top:80px;width:15px;height:16px;background:rgb(0,230,25);border-bottom:1px solid rgb(162,255,187);"></div>
<div class="c" style="left:0px;top:96px;width:16px;height:16px;background:rgb(0,102,153);border-right:1px solid rgb(162,255,255);border-bottom:1px solid rgb(162,255,255);"></div>
<div class="c" style="left:16px;top:96px;width:16px;height:16px;background:rgb(0,178,77);border-right:1px solid rgb(162,255,239);border-bottom:1px solid rgb(162,255,239);"></div>
<div class="c" style="left:32px;top:96px;width:16px;height:16px;background:rgb(0,199,56);border-right:1px solid rgb(162,255,218);border-bottom:1px solid rgb(162,255,218);"></div>
<div class="c" style="left:48px;top:96px;width:16px;height:16px;background:rgb(0,224,31);border-right:1px solid rgb(162,255,193);border-bottom:1px solid rgb(162,255,193);"></div>
<div class="c" style="left:64px;top:96px;width:16px;height:16px;background:rgb(0,230,25);border-right:1px solid rgb(162,255,187);border-bottom:1px solid rgb(162,255,187);"></div>
<div class="c" style="left:80px;top:96px;width:16px;height:16px;background:rgb(0,235,20);border-right:1px solid rgb(162,255,182);border-bottom:1px solid rgb(162,255,182);"></div>
<div class="c" style="left:96px;top:96px;width:16px;height:16px;background:rgb(0,235,20);border-right:1px solid rgb(162,255,182);border-bottom:1px solid rgb(162,255,182);"></div>
<div class="c" style="left:112px;top:96px;width:15px;height:16px;background:rgb(0,214,41);border-bottom:1px solid rgb(162,255,203);"></div>
<div class="c" style="left:0px;top:112px;width:16px;height:15px;background:rgb(0,102,153);border-right:1px solid rgb(162,255,255);"></div>
<div class="c" style="left:16px;top:112px;width:16px;height:15px;background:rgb(0,128,128);border-right:1px solid rgb(162,255,255);"></div>
<div class="c" style="left:32px;top:112px;width:16px;height:15px;background:rgb(0,168,87);border-right:1px solid rgb(162,255,249);"></div>
<div class="c" style="left:48px;top:112px;width:16px;height:15px;background:rgb(0,209,46);border-right:1px solid rgb(162,255,208);"></div>
<div class="c" style="left:64px;top:112px;width:16px;height:15px;background:rgb(0,214,41);border-right:1px solid rgb(162,255,203);"></div>
<div class="c" style="left:80px;top:112px;width:16px;height:15px;background:rgb(0,219,36);border-right:1px solid rgb(162,255,198);"></div>
<div class="c" style="left:96px;top:112px;width:16px;height:15px;background:rgb(0,209,46);border-right:1px solid rgb(162,255,208);"></div>
<div class="c" style="left:112px;top:112px;width:15px;height:15px;background:rgb(0,184,71);"></div>
</div>
<div class="tb" style="left:506.4px;top:285.1px;width:44px;height:19.5px"></div>
<div class="t" style="left:509.1px;top:287.8px">181.0</div>
<div class="t tl" style="left:559px;top:287.8px">:Max Temp:</div>
<div class="tb" style="left:621.8px;top:285.1px;width:44.2px;height:19.5px"></div>
<div class="t" style="left:625px;top:287.8px">257.0</div>
<div class="cb" style="left:631px;top:306.7px;width:24.8px;height:128px"></div>
<div class="tb" style="left:506.4px;top:437.3px;width:44px;height:19.3px"></div>
<div class="t" style="left:508.9px;top:439.6px">88.7</div>
<div class="t tl" style="left:561.8px;top:439.6px">:Min Temp:</div>
<div class="tb" style="left:621.8px;top:437.3px;width:44.2px;height:19.3px"></div>
<div class="t" style="left:624.8px;top:439.6px">77.0</div>
<div class="gray" style="left:710px;top:272px;width:206px;height:194.60000000000002px"></div>
<div class="grid" style="left:722px;top:306px;width:127.0px;height:127.0px">
<div class="c" style="left:0px;top:0px;width:16px;height:16px;background:rgb(0,46,209);border-right:1px solid rgb(162,208,255);border-bottom:1px solid rgb(162,208,255);"></div>
<div class="c" style="left:16px;top:0px;width:16px;height:16px;background:rgb(0,46,209);border-right:1px solid rgb(162,208,255);border-bottom:1px solid rgb(162,208,255);"></div>
<div class="c" style="left:32px;top:0px;width:16px;height:16px;background:rgb(0,46,209);border-right:1px solid rgb(162,208,255);border-bottom:1px solid rgb(162,208,255);"></div>
<div class="c" style="left:48px;top:0px;width:16px;height:16px;background:rgb(0,46,209);border-right:1px solid rgb(162,208,255);border-bottom:1px solid rgb(162,208,255);"></div>
<div class="c" style="left:64px;top:0px;width:16px;height:16px;background:rgb(0,46,209);border-right:1px solid rgb(162,208,255);border-bottom:1px solid rgb(162,208,255);"></div>
<div class="c" style="left:80px;top:0px;width:16px;height:16px;background:rgb(0,46,209);border-right:1px solid rgb(162,208,255);border-bottom:1px solid rgb(162,208,255);"></div>
<div class="c" style="left:96px;top:0px;width:16px;height:16px;background:rgb(0,97,158);border-right:1px solid rgb(162,255,255);border-bottom:1px solid rgb(162,255,255);"></div>
<div class="c" style="left:112px;top:0px;width:15px;height:16px;background:rgb(0,112,143);border-bottom:1px solid rgb(162,255,255);"></div>
<div class="c" style="left:0px;top:16px;width:16px;height:16px;background:rgb(0,46,209);border-right:1px solid rgb(162,208,255);border-bottom:1px solid rgb(162,208,255);"></div>
<div class="c" style="left:16px;top:16px;width:16px;height:16px;background:rgb(0,46,209);border-right:1px solid rgb(162,208,255);border-bottom:1px solid rgb(162,208,255);"></div>
<div class="c" style="left:32px;top:16px;width:16px;height:16px;background:rgb(0,46,209);border-right:1px solid rgb(162,208,255);border-bottom:1px solid rgb(162,208,255);"></div>
<div class="c" style="left:48px;top:16px;width:16px;height:16px;background:rgb(0,51,204);border-right:1px solid rgb(162,213,255);border-bottom:1px solid rgb(162,213,255);"></div>
<div class="c" style="left:64px;top:16px;width:16px;height:16px;background:rgb(0,51,204);border-right:1px solid rgb(162,213,255);border-bottom:1px solid rgb(162,213,255);"></div>
<div class="c" style="left:80px;top:16px;width:16px;height:16px;background:rgb(0,56,199);border-right:1px solid rgb(162,218,255);border-bottom:1px solid rgb(162,218,255);"></div>
<div class="c" style="left:96px;top:16px;width:16px;height:16px;background:rgb(0,107,148);border-right:1px solid rgb(162,255,255);border-bottom:1px solid rgb(162,255,255);"></div>
<div class="c" style="left:112px;top:16px;width:15px;height:16px;background:rgb(0,143,112);border-bottom:1px solid rgb(162,255,255);"></div>
<div class="c" style="left:0px;top:32px;width:16px;height:16px;background:rgb(0,107,148);border-right:1px solid rgb(162,255,255);border-bottom:1px solid rgb(162,255,255);"></div>
<div class="c" style="left:16px;top:32px;width:16px;height:16px;background:rgb(0,133,122);border-right:1px solid rgb(162,255,255);border-bottom:1px solid rgb(162,255,255);"></div>
<div class="c" style="left:32px;top:32px;width:16px;height:16px;background:rgb(0,148,107);border-right:1px solid rgb(162,255,255);border-bottom:1px solid rgb(162,255,255);"></div>
<div class="c" style="left:48px;top:32px;width:16px;height:16px;background:rgb(0,163,92);border-right:1px solid rgb(162,255,254);border-bottom:1px solid rgb(162,255,254);"></div>
<div class="c" style="left:64px;top:32px;width:16px;height:16px;background:rgb(0,173,82);border-right:1px solid rgb(162,255,244);border-bottom:1px solid rgb(162,255,244);"></div>
<div class="c" style="left:80px;top:32px;width:16px;height:16px;background:rgb(0,163,92);border-right:1px solid rgb(162,255,254);border-bottom:1px solid rgb(162,255,254);"></div>
<div class="c" style="left:96px;top:32px;width:16px;height:16px;background:rgb(0,153,102);border-right:1px solid rgb(162,255,255);border-bottom:1px solid rgb(162,255,255);"></div>
<div class="c" style="left:112px;top:32px;width:15px;height:16px;background:rgb(0,153,102);border-bottom:1px solid rgb(162,255,255);"></div>
<div class="c" style="left:0px;top:48px;width:16px;height:16px;background:rgb(0,189,66);border-right:1px solid rgb(162,255,228);border-bottom:1px solid rgb(162,255,228);"></div>
<div class="c" style="left:16px;top:48px;width:16px;height:16px;background:rgb(0,240,15);border-right:1px solid rgb(162,255,177);border-bottom:1px solid rgb(162,255,177);"></div>
<div class="c" style="left:32px;top:48px;width:16px;height:16px;background:rgb(0,255,0);border-right:1px solid rgb(162,255,162);border-bottom:1px solid rgb(162,255,162);"></div>
<div class="c" style="left:48px;top:48px;width:16px;height:16px;background:rgb(26,229,0);border-right:1px solid rgb(188,255,162);border-bottom:1px solid rgb(188,255,162);"></div>
<div class="c" style="left:64px;top:48px;width:16px;height:16px;background:rgb(77,178,0);border-right:1px solid rgb(239,255,162);border-bottom:1px solid rgb(239,255,162);"></div>
<div class="c" style="left:80px;top:48px;width:16px;height:16px;background:rgb(36,219,0);border-right:1px solid rgb(198,255,162);border-bottom:1px solid rgb(198,255,162);"></div>
<div class="c" style="left:96px;top:48px;width:16px;height:16px;background:rgb(5,250,0);border-right:1px solid rgb(167,255,162);border-bottom:1px solid rgb(167,255,162);"></div>
<div class="c" style="left:112px;top:48px;width:15px;height:16px;background:rgb(0,250,5);border-bottom:1px solid rgb(162,255,167);"></div>
<div class="c" style="left:0px;top:64px;width:16px;height:16px;background:rgb(0,163,92);border-right:1px solid rgb(162,255,254);border-bottom:1px solid rgb(162,255,254);"></div>
<div class="c" style="left:16px;top:64px;width:16px;height:16px;background:rgb(0,235,20);border-right:1px solid rgb(162,255,182);border-bottom:1px solid rgb(162,255,182);"></div>
<div class="c" style="left:32px;top:64px;width:16px;height:16px;background:rgb(0,250,5);border-right:1px solid rgb(162,255,167);border-bottom:1px solid rgb(162,255,167);"></div>
<div class="c" style="left:48px;top:64px;width:16px;height:16px;background:rgb(46,209,0);border-right:1px solid rgb(208,255,162);border-bottom:1px solid rgb(208,255,162);"></div>
<div class="c" style="left:64px;top:64px;width:16px;height:16px;background:rgb(89,166,0);border-right:1px solid rgb(251,255,162);border-bottom:1px solid rgb(251,255,162);"></div>
<div class="c" style="left:80px;top:64px;width:16px;height:16px;background:rgb(51,204,0);border-right:1px solid rgb(213,255,162);border-bottom:1px solid rgb(213,255,162);"></div>
<div class="c" style="left:96px;top:64px;width:16px;height:16px;background:rgb(31,224,0);border-right:1px solid rgb(193,255,162);border-bottom:1px solid rgb(193,255,162);"></div>
<div class="c" style="left:112px;top:64px;width:15px;height:16px;background:rgb(10,245,0);border-bottom:1px solid rgb(172,255,162);"></div>
<div class="c" style="left:0px;top:80px;width:16px;height:16px;background:rgb(0,143,112);border-right:1px solid rgb(162,255,255);border-bottom:1px solid rgb(162,255,255);"></div>
<div class="c" style="left:16px;top:80px;width:16px;height:16px;background:rgb(0,219,36);border-right:1px solid rgb(162,255,198);border-bottom:1px solid rgb(162,255,198);"></div>
<div class="c" style="left:32px;top:80px;width:16px;height:16px;background:rgb(0,214,41);border-right:1px solid rgb(162,255,203);border-bottom:1px solid rgb(162,255,203);"></div>
<div class="c" style="left:48px;top:80px;width:16px;height:16px;background:rgb(5,250,0);border-right:1px solid rgb(167,255,162);border-bottom:1px solid rgb(167,255,162);"></div>
<div class="c" style="left:64px;top:80px;width:16px;height:16px;background:rgb(20,235,0);border-right:1px solid rgb(182,255,162);border-bottom:1px solid rgb(182,255,162);"></div>
<div class="c" style="left:80px;top:80px;width:16px;height:16px;background:rgb(51,204,0);border-right:1px solid rgb(213,255,162);border-bottom:1px solid rgb(213,255,162);"></div>
<div class="c" style="left:96px;top:80px;width:16px;height:16px;background:rgb(31,224,0);border-right:1px solid rgb(193,255,162);border-bottom:1px solid rgb(193,255,162);"></div>
<div class="c" style="left:112px;top:80px;width:15px;height:16px;background:rgb(15,240,0);border-bottom:1px solid rgb(177,255,162);"></div>
<div class="c" style="left:0px;top:96px;width:16px;height:16px;background:rgb(0,122,133);border-right:1px solid rgb(162,255,255);border-bottom:1px solid rgb(162,255,255);"></div>
<div class="c" style="left:16px;top:96px;width:16px;height:16px;background:rgb(0,189,66);border-right:1px solid rgb(162,255,228);border-bottom:1px solid rgb(162,255,228);"></div>
<div class="c" style="left:32px;top:96px;width:16px;height:16px;background:rgb(0,230,25);border-right:1px solid rgb(162,255,187);border-bottom:1px solid rgb(162,255,187);"></div>
<div class="c" style="left:48px;top:96px;width:16px;height:16px;background:rgb(5,250,0);border-right:1px solid rgb(167,255,162);border-bottom:1px solid rgb(167,255,162);"></div>
<div class="c" style="left:64px;top:96px;width:16px;height:16px;background:rgb(10,245,0);border-right:1px solid rgb(172,255,162);border-bottom:1px solid rgb(172,255,162);"></div>
<div class="c" style="left:80px;top:96px;width:16px;height:16px;background:rgb(20,235,0);border-right:1px solid rgb(182,255,162);border-bottom:1px solid rgb(182,255,162);"></div>
<div class="c" style="left:96px;top:96px;width:16px;height:16px;background:rgb(15,240,0);border-right:1px solid rgb(177,255,162);border-bottom:1px solid rgb(177,255,162);"></div>
<div class="c" style="left:112px;top:96px;width:15px;height:16px;background:rgb(0,255,0);border-bottom:1px solid rgb(162,255,162);"></div>
<div class="c" style="left:0px;top:112px;width:16px;height:15px;background:rgb(0,128,128);border-right:1px solid rgb(162,255,255);"></div>
<div class="c" style="left:16px;top:112px;width:16px;height:15px;background:rgb(0,153,102);border-right:1px solid rgb(162,255,255);"></div>
<div class="c" style="left:32px;top:112px;width:16px;height:15px;background:rgb(0,189,66);border-right:1px solid rgb(162,255,228);"></div>
<div class="c" style="left:48px;top:112px;width:16px;height:15px;background:rgb(0,240,15);border-right:1px solid rgb(162,255,177);"></div>
<div class="c" style="left:64px;top:112px;width:16px;height:15px;background:rgb(0,250,5);border-right:1px solid rgb(162,255,167);"></div>
<div class="c" style="left:80px;top:112px;width:16px;height:15px;background:rgb(0,255,0);border-right:1px solid rgb(162,255,162);"></div>
<div class="c" style="left:96px;top:112px;width:16px;height:15px;background:rgb(0,245,10);border-right:1px solid rgb(162,255,172);"></div>
<div class="c" style="left:112px;top:112px;width:15px;height:15px;background:rgb(0,214,41);"></div>
</div>
<div class="tb" style="left:740.4px;top:284.1px;width:44px;height:19.5px"></div>
<div class="t" style="left:743.1px;top:286.8px">198.5</div>
<div class="t tl" style="left:793px;top:286.8px">:Max Temp:</div>
<div class="tb" style="left:855.8px;top:284.1px;width:44.2px;height:19.5px"></div>
<div class="t" style="left:859px;top:286.8px">257.0</div>
<div class="cb" style="left:865px;top:305.7px;width:24.8px;height:128px"></div>
<div class="tb" style="left:740.4px;top:436.3px;width:44px;height:19.3px"></div>
<div class="t" style="left:742.9px;top:438.6px">93.2</div>
<div class="t tl" style="left:795.8px;top:438.6px">:Min Temp:</div>
<div class="tb" style="left:855.8px;top:436.3px;width:44.2px;height:19.3px"></div>
<div class="t" style="left:858.8px;top:438.6px">77.0</div>
<div class="lab" style="left:9.7px;top:204.70000000000002px;transform:scaleX(0.905)">Front - 6.0A</div>
<div class="lab" style="left:238.7px;top:207.8px;transform:scaleX(0.905)">Front - 7.0A</div>
<div class="lab" style="left:479.7px;top:205.4px;transform:scaleX(0.905)">Front - 8.0A</div>
<div class="lab" style="left:706.6px;top:208.70000000000002px;transform:scaleX(0.905)">Front - 8.5A</div>
<div class="lab" style="left:9.7px;top:244.7px;transform:scaleX(0.918)">Back - 6.0A</div>
<div class="lab" style="left:238.7px;top:247.8px;transform:scaleX(0.918)">Back - 7.0A</div>
<div class="lab" style="left:479.7px;top:245.40000000000003px;transform:scaleX(0.918)">Back - 8.0A</div>
<div class="lab" style="left:706.6px;top:248.7px;transform:scaleX(0.918)">Back - 8.5A</div>
</body></html>
